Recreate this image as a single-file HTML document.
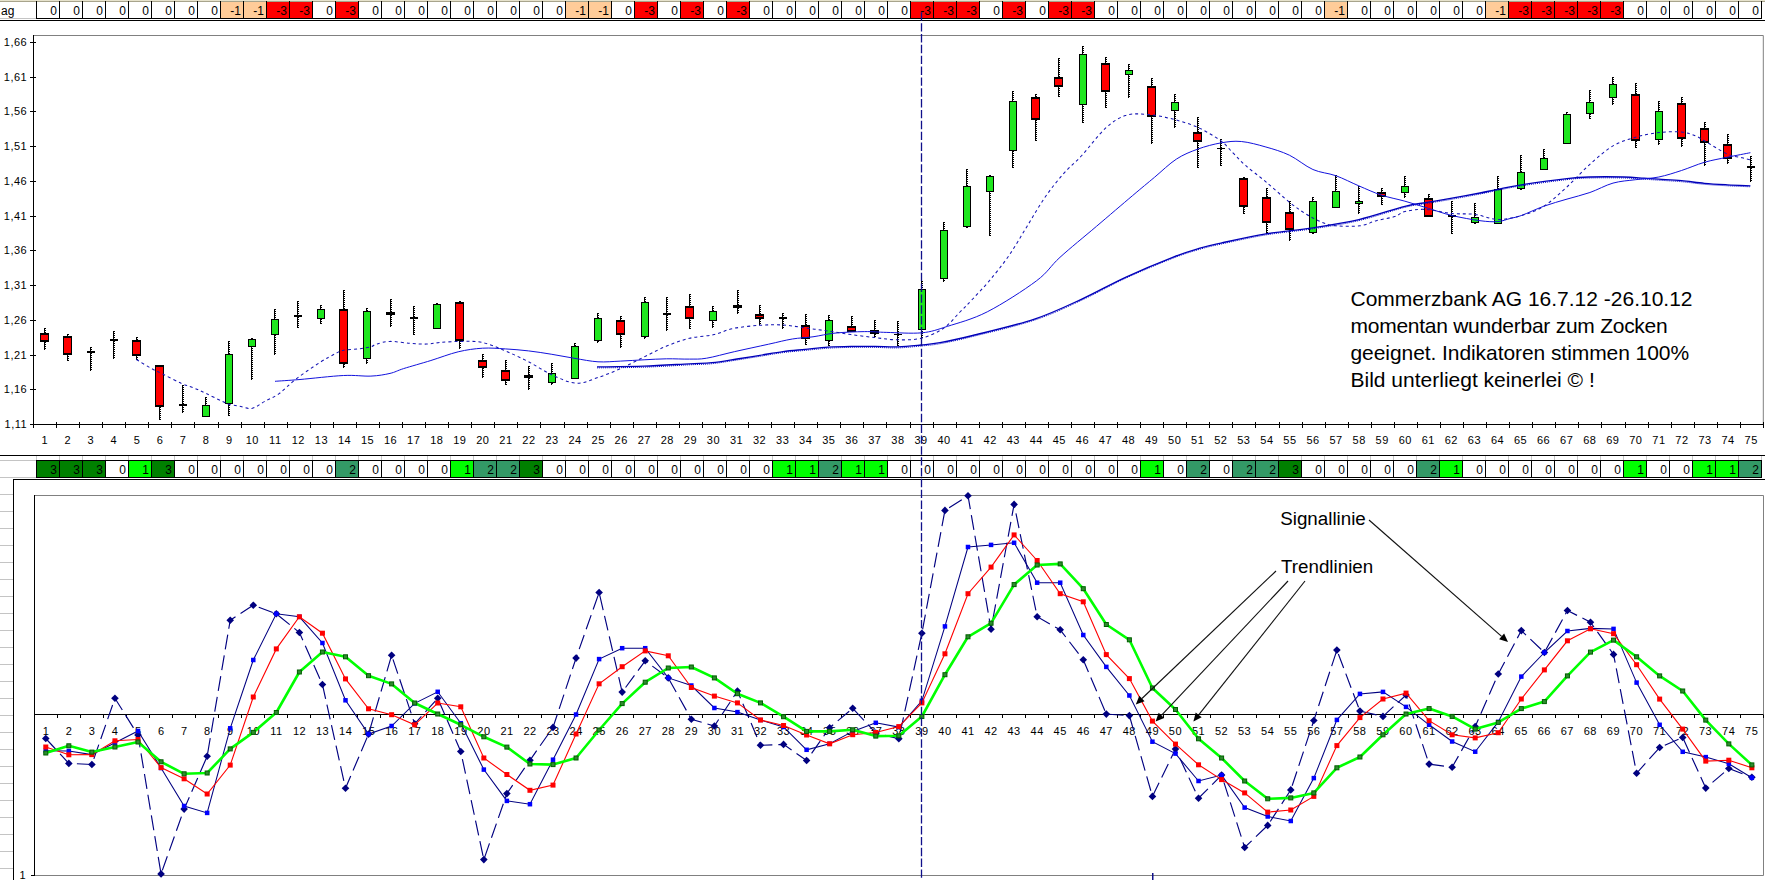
<!DOCTYPE html>
<html><head><meta charset="utf-8"><title>Commerzbank Chart</title>
<style>
html,body{margin:0;padding:0;background:#fff;width:1765px;height:880px;overflow:hidden}
svg{display:block}
text{font-family:"Liberation Sans", sans-serif;fill:#000}
.c{font-size:12px}
.a{font-size:11px;letter-spacing:0.5px}
.t{font-size:21px}
.s{font-size:18.8px}
</style></head><body>
<svg width="1765" height="880" viewBox="0 0 1765 880">
<rect width="1765" height="880" fill="#fff"/>
<rect x="0" y="0" width="1765" height="1" fill="#e6e2cc"/>
<rect x="0" y="1" width="1765" height="1" fill="#a8a48c"/>
<rect x="0" y="18" width="36" height="1" fill="#c4c4c4"/>
<rect x="36" y="1" width="1725" height="1" fill="#a8a48c"/>
<rect x="220" y="2" width="23" height="16" fill="#ffcc99"/>
<rect x="243" y="2" width="23" height="16" fill="#ffcc99"/>
<rect x="266" y="2" width="23" height="16" fill="#ff0000"/>
<rect x="289" y="2" width="23" height="16" fill="#ff0000"/>
<rect x="335" y="2" width="23" height="16" fill="#ff0000"/>
<rect x="565" y="2" width="23" height="16" fill="#ffcc99"/>
<rect x="588" y="2" width="23" height="16" fill="#ffcc99"/>
<rect x="634" y="2" width="23" height="16" fill="#ff0000"/>
<rect x="680" y="2" width="23" height="16" fill="#ff0000"/>
<rect x="726" y="2" width="23" height="16" fill="#ff0000"/>
<rect x="910" y="2" width="23" height="16" fill="#ff0000"/>
<rect x="933" y="2" width="23" height="16" fill="#ff0000"/>
<rect x="956" y="2" width="23" height="16" fill="#ff0000"/>
<rect x="1002" y="2" width="23" height="16" fill="#ff0000"/>
<rect x="1048" y="2" width="23" height="16" fill="#ff0000"/>
<rect x="1071" y="2" width="23" height="16" fill="#ff0000"/>
<rect x="1324" y="2" width="23" height="16" fill="#ffcc99"/>
<rect x="1485" y="2" width="23" height="16" fill="#ffcc99"/>
<rect x="1508" y="2" width="23" height="16" fill="#ff0000"/>
<rect x="1531" y="2" width="23" height="16" fill="#ff0000"/>
<rect x="1554" y="2" width="23" height="16" fill="#ff0000"/>
<rect x="1577" y="2" width="23" height="16" fill="#ff0000"/>
<rect x="1600" y="2" width="23" height="16" fill="#ff0000"/>
<rect x="36" y="18" width="1726" height="1" fill="#000"/>
<rect x="36" y="1" width="1" height="18" fill="#000"/>
<rect x="59" y="1" width="1" height="18" fill="#000"/>
<rect x="82" y="1" width="1" height="18" fill="#000"/>
<rect x="105" y="1" width="1" height="18" fill="#000"/>
<rect x="128" y="1" width="1" height="18" fill="#000"/>
<rect x="151" y="1" width="1" height="18" fill="#000"/>
<rect x="174" y="1" width="1" height="18" fill="#000"/>
<rect x="197" y="1" width="1" height="18" fill="#000"/>
<rect x="220" y="1" width="1" height="18" fill="#000"/>
<rect x="243" y="1" width="1" height="18" fill="#000"/>
<rect x="266" y="1" width="1" height="18" fill="#000"/>
<rect x="289" y="1" width="1" height="18" fill="#000"/>
<rect x="312" y="1" width="1" height="18" fill="#000"/>
<rect x="335" y="1" width="1" height="18" fill="#000"/>
<rect x="358" y="1" width="1" height="18" fill="#000"/>
<rect x="381" y="1" width="1" height="18" fill="#000"/>
<rect x="404" y="1" width="1" height="18" fill="#000"/>
<rect x="427" y="1" width="1" height="18" fill="#000"/>
<rect x="450" y="1" width="1" height="18" fill="#000"/>
<rect x="473" y="1" width="1" height="18" fill="#000"/>
<rect x="496" y="1" width="1" height="18" fill="#000"/>
<rect x="519" y="1" width="1" height="18" fill="#000"/>
<rect x="542" y="1" width="1" height="18" fill="#000"/>
<rect x="565" y="1" width="1" height="18" fill="#000"/>
<rect x="588" y="1" width="1" height="18" fill="#000"/>
<rect x="611" y="1" width="1" height="18" fill="#000"/>
<rect x="634" y="1" width="1" height="18" fill="#000"/>
<rect x="657" y="1" width="1" height="18" fill="#000"/>
<rect x="680" y="1" width="1" height="18" fill="#000"/>
<rect x="703" y="1" width="1" height="18" fill="#000"/>
<rect x="726" y="1" width="1" height="18" fill="#000"/>
<rect x="749" y="1" width="1" height="18" fill="#000"/>
<rect x="772" y="1" width="1" height="18" fill="#000"/>
<rect x="795" y="1" width="1" height="18" fill="#000"/>
<rect x="818" y="1" width="1" height="18" fill="#000"/>
<rect x="841" y="1" width="1" height="18" fill="#000"/>
<rect x="864" y="1" width="1" height="18" fill="#000"/>
<rect x="887" y="1" width="1" height="18" fill="#000"/>
<rect x="910" y="1" width="1" height="18" fill="#000"/>
<rect x="933" y="1" width="1" height="18" fill="#000"/>
<rect x="956" y="1" width="1" height="18" fill="#000"/>
<rect x="979" y="1" width="1" height="18" fill="#000"/>
<rect x="1002" y="1" width="1" height="18" fill="#000"/>
<rect x="1025" y="1" width="1" height="18" fill="#000"/>
<rect x="1048" y="1" width="1" height="18" fill="#000"/>
<rect x="1071" y="1" width="1" height="18" fill="#000"/>
<rect x="1094" y="1" width="1" height="18" fill="#000"/>
<rect x="1117" y="1" width="1" height="18" fill="#000"/>
<rect x="1140" y="1" width="1" height="18" fill="#000"/>
<rect x="1163" y="1" width="1" height="18" fill="#000"/>
<rect x="1186" y="1" width="1" height="18" fill="#000"/>
<rect x="1209" y="1" width="1" height="18" fill="#000"/>
<rect x="1232" y="1" width="1" height="18" fill="#000"/>
<rect x="1255" y="1" width="1" height="18" fill="#000"/>
<rect x="1278" y="1" width="1" height="18" fill="#000"/>
<rect x="1301" y="1" width="1" height="18" fill="#000"/>
<rect x="1324" y="1" width="1" height="18" fill="#000"/>
<rect x="1347" y="1" width="1" height="18" fill="#000"/>
<rect x="1370" y="1" width="1" height="18" fill="#000"/>
<rect x="1393" y="1" width="1" height="18" fill="#000"/>
<rect x="1416" y="1" width="1" height="18" fill="#000"/>
<rect x="1439" y="1" width="1" height="18" fill="#000"/>
<rect x="1462" y="1" width="1" height="18" fill="#000"/>
<rect x="1485" y="1" width="1" height="18" fill="#000"/>
<rect x="1508" y="1" width="1" height="18" fill="#000"/>
<rect x="1531" y="1" width="1" height="18" fill="#000"/>
<rect x="1554" y="1" width="1" height="18" fill="#000"/>
<rect x="1577" y="1" width="1" height="18" fill="#000"/>
<rect x="1600" y="1" width="1" height="18" fill="#000"/>
<rect x="1623" y="1" width="1" height="18" fill="#000"/>
<rect x="1646" y="1" width="1" height="18" fill="#000"/>
<rect x="1669" y="1" width="1" height="18" fill="#000"/>
<rect x="1692" y="1" width="1" height="18" fill="#000"/>
<rect x="1715" y="1" width="1" height="18" fill="#000"/>
<rect x="1738" y="1" width="1" height="18" fill="#000"/>
<rect x="1761" y="1" width="1" height="18" fill="#000"/>
<text x="57" y="15.2" text-anchor="end" class="c">0</text>
<text x="80" y="15.2" text-anchor="end" class="c">0</text>
<text x="103" y="15.2" text-anchor="end" class="c">0</text>
<text x="126" y="15.2" text-anchor="end" class="c">0</text>
<text x="149" y="15.2" text-anchor="end" class="c">0</text>
<text x="172" y="15.2" text-anchor="end" class="c">0</text>
<text x="195" y="15.2" text-anchor="end" class="c">0</text>
<text x="218" y="15.2" text-anchor="end" class="c">0</text>
<text x="241" y="15.2" text-anchor="end" class="c">-1</text>
<text x="264" y="15.2" text-anchor="end" class="c">-1</text>
<text x="287" y="15.2" text-anchor="end" class="c">-3</text>
<text x="310" y="15.2" text-anchor="end" class="c">-3</text>
<text x="333" y="15.2" text-anchor="end" class="c">0</text>
<text x="356" y="15.2" text-anchor="end" class="c">-3</text>
<text x="379" y="15.2" text-anchor="end" class="c">0</text>
<text x="402" y="15.2" text-anchor="end" class="c">0</text>
<text x="425" y="15.2" text-anchor="end" class="c">0</text>
<text x="448" y="15.2" text-anchor="end" class="c">0</text>
<text x="471" y="15.2" text-anchor="end" class="c">0</text>
<text x="494" y="15.2" text-anchor="end" class="c">0</text>
<text x="517" y="15.2" text-anchor="end" class="c">0</text>
<text x="540" y="15.2" text-anchor="end" class="c">0</text>
<text x="563" y="15.2" text-anchor="end" class="c">0</text>
<text x="586" y="15.2" text-anchor="end" class="c">-1</text>
<text x="609" y="15.2" text-anchor="end" class="c">-1</text>
<text x="632" y="15.2" text-anchor="end" class="c">0</text>
<text x="655" y="15.2" text-anchor="end" class="c">-3</text>
<text x="678" y="15.2" text-anchor="end" class="c">0</text>
<text x="701" y="15.2" text-anchor="end" class="c">-3</text>
<text x="724" y="15.2" text-anchor="end" class="c">0</text>
<text x="747" y="15.2" text-anchor="end" class="c">-3</text>
<text x="770" y="15.2" text-anchor="end" class="c">0</text>
<text x="793" y="15.2" text-anchor="end" class="c">0</text>
<text x="816" y="15.2" text-anchor="end" class="c">0</text>
<text x="839" y="15.2" text-anchor="end" class="c">0</text>
<text x="862" y="15.2" text-anchor="end" class="c">0</text>
<text x="885" y="15.2" text-anchor="end" class="c">0</text>
<text x="908" y="15.2" text-anchor="end" class="c">0</text>
<text x="931" y="15.2" text-anchor="end" class="c">-3</text>
<text x="954" y="15.2" text-anchor="end" class="c">-3</text>
<text x="977" y="15.2" text-anchor="end" class="c">-3</text>
<text x="1000" y="15.2" text-anchor="end" class="c">0</text>
<text x="1023" y="15.2" text-anchor="end" class="c">-3</text>
<text x="1046" y="15.2" text-anchor="end" class="c">0</text>
<text x="1069" y="15.2" text-anchor="end" class="c">-3</text>
<text x="1092" y="15.2" text-anchor="end" class="c">-3</text>
<text x="1115" y="15.2" text-anchor="end" class="c">0</text>
<text x="1138" y="15.2" text-anchor="end" class="c">0</text>
<text x="1161" y="15.2" text-anchor="end" class="c">0</text>
<text x="1184" y="15.2" text-anchor="end" class="c">0</text>
<text x="1207" y="15.2" text-anchor="end" class="c">0</text>
<text x="1230" y="15.2" text-anchor="end" class="c">0</text>
<text x="1253" y="15.2" text-anchor="end" class="c">0</text>
<text x="1276" y="15.2" text-anchor="end" class="c">0</text>
<text x="1299" y="15.2" text-anchor="end" class="c">0</text>
<text x="1322" y="15.2" text-anchor="end" class="c">0</text>
<text x="1345" y="15.2" text-anchor="end" class="c">-1</text>
<text x="1368" y="15.2" text-anchor="end" class="c">0</text>
<text x="1391" y="15.2" text-anchor="end" class="c">0</text>
<text x="1414" y="15.2" text-anchor="end" class="c">0</text>
<text x="1437" y="15.2" text-anchor="end" class="c">0</text>
<text x="1460" y="15.2" text-anchor="end" class="c">0</text>
<text x="1483" y="15.2" text-anchor="end" class="c">0</text>
<text x="1506" y="15.2" text-anchor="end" class="c">-1</text>
<text x="1529" y="15.2" text-anchor="end" class="c">-3</text>
<text x="1552" y="15.2" text-anchor="end" class="c">-3</text>
<text x="1575" y="15.2" text-anchor="end" class="c">-3</text>
<text x="1598" y="15.2" text-anchor="end" class="c">-3</text>
<text x="1621" y="15.2" text-anchor="end" class="c">-3</text>
<text x="1644" y="15.2" text-anchor="end" class="c">0</text>
<text x="1667" y="15.2" text-anchor="end" class="c">0</text>
<text x="1690" y="15.2" text-anchor="end" class="c">0</text>
<text x="1713" y="15.2" text-anchor="end" class="c">0</text>
<text x="1736" y="15.2" text-anchor="end" class="c">0</text>
<text x="1759" y="15.2" text-anchor="end" class="c">0</text>
<text x="1" y="14.6" class="c">ag</text>
<rect x="0" y="20" width="1765" height="1" fill="#000"/>
<line x1="33.5" y1="35.5" x2="1763.3" y2="35.5" stroke="#808080" stroke-width="1"/>
<line x1="1763.3" y1="35.5" x2="1763.3" y2="424.5" stroke="#808080" stroke-width="1"/>
<line x1="30" y1="42.5" x2="36" y2="42.5" stroke="#000" stroke-width="1"/>
<text x="27.2" y="46.3" text-anchor="end" class="a">1,66</text>
<line x1="30" y1="77.5" x2="36" y2="77.5" stroke="#000" stroke-width="1"/>
<text x="27.2" y="81.3" text-anchor="end" class="a">1,61</text>
<line x1="30" y1="111.5" x2="36" y2="111.5" stroke="#000" stroke-width="1"/>
<text x="27.2" y="115.3" text-anchor="end" class="a">1,56</text>
<line x1="30" y1="146.5" x2="36" y2="146.5" stroke="#000" stroke-width="1"/>
<text x="27.2" y="150.3" text-anchor="end" class="a">1,51</text>
<line x1="30" y1="181.5" x2="36" y2="181.5" stroke="#000" stroke-width="1"/>
<text x="27.2" y="185.3" text-anchor="end" class="a">1,46</text>
<line x1="30" y1="216.5" x2="36" y2="216.5" stroke="#000" stroke-width="1"/>
<text x="27.2" y="220.3" text-anchor="end" class="a">1,41</text>
<line x1="30" y1="250.5" x2="36" y2="250.5" stroke="#000" stroke-width="1"/>
<text x="27.2" y="254.3" text-anchor="end" class="a">1,36</text>
<line x1="30" y1="285.5" x2="36" y2="285.5" stroke="#000" stroke-width="1"/>
<text x="27.2" y="289.3" text-anchor="end" class="a">1,31</text>
<line x1="30" y1="320.5" x2="36" y2="320.5" stroke="#000" stroke-width="1"/>
<text x="27.2" y="324.3" text-anchor="end" class="a">1,26</text>
<line x1="30" y1="355.5" x2="36" y2="355.5" stroke="#000" stroke-width="1"/>
<text x="27.2" y="359.3" text-anchor="end" class="a">1,21</text>
<line x1="30" y1="389.5" x2="36" y2="389.5" stroke="#000" stroke-width="1"/>
<text x="27.2" y="393.3" text-anchor="end" class="a">1,16</text>
<line x1="30" y1="424.5" x2="36" y2="424.5" stroke="#000" stroke-width="1"/>
<text x="27.2" y="428.3" text-anchor="end" class="a">1,11</text>
<rect x="33" y="422" width="1" height="6" fill="#000"/>
<rect x="56" y="422" width="1" height="6" fill="#000"/>
<rect x="79" y="422" width="1" height="6" fill="#000"/>
<rect x="102" y="422" width="1" height="6" fill="#000"/>
<rect x="125" y="422" width="1" height="6" fill="#000"/>
<rect x="148" y="422" width="1" height="6" fill="#000"/>
<rect x="171" y="422" width="1" height="6" fill="#000"/>
<rect x="194" y="422" width="1" height="6" fill="#000"/>
<rect x="218" y="422" width="1" height="6" fill="#000"/>
<rect x="241" y="422" width="1" height="6" fill="#000"/>
<rect x="264" y="422" width="1" height="6" fill="#000"/>
<rect x="287" y="422" width="1" height="6" fill="#000"/>
<rect x="310" y="422" width="1" height="6" fill="#000"/>
<rect x="333" y="422" width="1" height="6" fill="#000"/>
<rect x="356" y="422" width="1" height="6" fill="#000"/>
<rect x="379" y="422" width="1" height="6" fill="#000"/>
<rect x="402" y="422" width="1" height="6" fill="#000"/>
<rect x="425" y="422" width="1" height="6" fill="#000"/>
<rect x="448" y="422" width="1" height="6" fill="#000"/>
<rect x="471" y="422" width="1" height="6" fill="#000"/>
<rect x="494" y="422" width="1" height="6" fill="#000"/>
<rect x="517" y="422" width="1" height="6" fill="#000"/>
<rect x="540" y="422" width="1" height="6" fill="#000"/>
<rect x="564" y="422" width="1" height="6" fill="#000"/>
<rect x="587" y="422" width="1" height="6" fill="#000"/>
<rect x="610" y="422" width="1" height="6" fill="#000"/>
<rect x="633" y="422" width="1" height="6" fill="#000"/>
<rect x="656" y="422" width="1" height="6" fill="#000"/>
<rect x="679" y="422" width="1" height="6" fill="#000"/>
<rect x="702" y="422" width="1" height="6" fill="#000"/>
<rect x="725" y="422" width="1" height="6" fill="#000"/>
<rect x="748" y="422" width="1" height="6" fill="#000"/>
<rect x="771" y="422" width="1" height="6" fill="#000"/>
<rect x="794" y="422" width="1" height="6" fill="#000"/>
<rect x="817" y="422" width="1" height="6" fill="#000"/>
<rect x="840" y="422" width="1" height="6" fill="#000"/>
<rect x="863" y="422" width="1" height="6" fill="#000"/>
<rect x="886" y="422" width="1" height="6" fill="#000"/>
<rect x="910" y="422" width="1" height="6" fill="#000"/>
<rect x="933" y="422" width="1" height="6" fill="#000"/>
<rect x="956" y="422" width="1" height="6" fill="#000"/>
<rect x="979" y="422" width="1" height="6" fill="#000"/>
<rect x="1002" y="422" width="1" height="6" fill="#000"/>
<rect x="1025" y="422" width="1" height="6" fill="#000"/>
<rect x="1048" y="422" width="1" height="6" fill="#000"/>
<rect x="1071" y="422" width="1" height="6" fill="#000"/>
<rect x="1094" y="422" width="1" height="6" fill="#000"/>
<rect x="1117" y="422" width="1" height="6" fill="#000"/>
<rect x="1140" y="422" width="1" height="6" fill="#000"/>
<rect x="1163" y="422" width="1" height="6" fill="#000"/>
<rect x="1186" y="422" width="1" height="6" fill="#000"/>
<rect x="1209" y="422" width="1" height="6" fill="#000"/>
<rect x="1232" y="422" width="1" height="6" fill="#000"/>
<rect x="1255" y="422" width="1" height="6" fill="#000"/>
<rect x="1279" y="422" width="1" height="6" fill="#000"/>
<rect x="1302" y="422" width="1" height="6" fill="#000"/>
<rect x="1325" y="422" width="1" height="6" fill="#000"/>
<rect x="1348" y="422" width="1" height="6" fill="#000"/>
<rect x="1371" y="422" width="1" height="6" fill="#000"/>
<rect x="1394" y="422" width="1" height="6" fill="#000"/>
<rect x="1417" y="422" width="1" height="6" fill="#000"/>
<rect x="1440" y="422" width="1" height="6" fill="#000"/>
<rect x="1463" y="422" width="1" height="6" fill="#000"/>
<rect x="1486" y="422" width="1" height="6" fill="#000"/>
<rect x="1509" y="422" width="1" height="6" fill="#000"/>
<rect x="1532" y="422" width="1" height="6" fill="#000"/>
<rect x="1555" y="422" width="1" height="6" fill="#000"/>
<rect x="1578" y="422" width="1" height="6" fill="#000"/>
<rect x="1601" y="422" width="1" height="6" fill="#000"/>
<rect x="1625" y="422" width="1" height="6" fill="#000"/>
<rect x="1648" y="422" width="1" height="6" fill="#000"/>
<rect x="1671" y="422" width="1" height="6" fill="#000"/>
<rect x="1694" y="422" width="1" height="6" fill="#000"/>
<rect x="1717" y="422" width="1" height="6" fill="#000"/>
<rect x="1740" y="422" width="1" height="6" fill="#000"/>
<rect x="1763" y="422" width="1" height="6" fill="#000"/>
<text x="44.73" y="444" text-anchor="middle" class="a">1</text>
<text x="67.79" y="444" text-anchor="middle" class="a">2</text>
<text x="90.85" y="444" text-anchor="middle" class="a">3</text>
<text x="113.91" y="444" text-anchor="middle" class="a">4</text>
<text x="136.97" y="444" text-anchor="middle" class="a">5</text>
<text x="160.03" y="444" text-anchor="middle" class="a">6</text>
<text x="183.09" y="444" text-anchor="middle" class="a">7</text>
<text x="206.15" y="444" text-anchor="middle" class="a">8</text>
<text x="229.21" y="444" text-anchor="middle" class="a">9</text>
<text x="252.27" y="444" text-anchor="middle" class="a">10</text>
<text x="275.33" y="444" text-anchor="middle" class="a">11</text>
<text x="298.39" y="444" text-anchor="middle" class="a">12</text>
<text x="321.45" y="444" text-anchor="middle" class="a">13</text>
<text x="344.51" y="444" text-anchor="middle" class="a">14</text>
<text x="367.57" y="444" text-anchor="middle" class="a">15</text>
<text x="390.63" y="444" text-anchor="middle" class="a">16</text>
<text x="413.69" y="444" text-anchor="middle" class="a">17</text>
<text x="436.75" y="444" text-anchor="middle" class="a">18</text>
<text x="459.81" y="444" text-anchor="middle" class="a">19</text>
<text x="482.87" y="444" text-anchor="middle" class="a">20</text>
<text x="505.93" y="444" text-anchor="middle" class="a">21</text>
<text x="528.99" y="444" text-anchor="middle" class="a">22</text>
<text x="552.05" y="444" text-anchor="middle" class="a">23</text>
<text x="575.11" y="444" text-anchor="middle" class="a">24</text>
<text x="598.17" y="444" text-anchor="middle" class="a">25</text>
<text x="621.23" y="444" text-anchor="middle" class="a">26</text>
<text x="644.29" y="444" text-anchor="middle" class="a">27</text>
<text x="667.35" y="444" text-anchor="middle" class="a">28</text>
<text x="690.41" y="444" text-anchor="middle" class="a">29</text>
<text x="713.47" y="444" text-anchor="middle" class="a">30</text>
<text x="736.53" y="444" text-anchor="middle" class="a">31</text>
<text x="759.59" y="444" text-anchor="middle" class="a">32</text>
<text x="782.65" y="444" text-anchor="middle" class="a">33</text>
<text x="805.71" y="444" text-anchor="middle" class="a">34</text>
<text x="828.77" y="444" text-anchor="middle" class="a">35</text>
<text x="851.83" y="444" text-anchor="middle" class="a">36</text>
<text x="874.89" y="444" text-anchor="middle" class="a">37</text>
<text x="897.95" y="444" text-anchor="middle" class="a">38</text>
<text x="921.01" y="444" text-anchor="middle" class="a">39</text>
<text x="944.07" y="444" text-anchor="middle" class="a">40</text>
<text x="967.13" y="444" text-anchor="middle" class="a">41</text>
<text x="990.19" y="444" text-anchor="middle" class="a">42</text>
<text x="1013.25" y="444" text-anchor="middle" class="a">43</text>
<text x="1036.31" y="444" text-anchor="middle" class="a">44</text>
<text x="1059.37" y="444" text-anchor="middle" class="a">45</text>
<text x="1082.43" y="444" text-anchor="middle" class="a">46</text>
<text x="1105.49" y="444" text-anchor="middle" class="a">47</text>
<text x="1128.55" y="444" text-anchor="middle" class="a">48</text>
<text x="1151.61" y="444" text-anchor="middle" class="a">49</text>
<text x="1174.67" y="444" text-anchor="middle" class="a">50</text>
<text x="1197.73" y="444" text-anchor="middle" class="a">51</text>
<text x="1220.79" y="444" text-anchor="middle" class="a">52</text>
<text x="1243.85" y="444" text-anchor="middle" class="a">53</text>
<text x="1266.91" y="444" text-anchor="middle" class="a">54</text>
<text x="1289.97" y="444" text-anchor="middle" class="a">55</text>
<text x="1313.03" y="444" text-anchor="middle" class="a">56</text>
<text x="1336.09" y="444" text-anchor="middle" class="a">57</text>
<text x="1359.15" y="444" text-anchor="middle" class="a">58</text>
<text x="1382.21" y="444" text-anchor="middle" class="a">59</text>
<text x="1405.27" y="444" text-anchor="middle" class="a">60</text>
<text x="1428.33" y="444" text-anchor="middle" class="a">61</text>
<text x="1451.39" y="444" text-anchor="middle" class="a">62</text>
<text x="1474.45" y="444" text-anchor="middle" class="a">63</text>
<text x="1497.51" y="444" text-anchor="middle" class="a">64</text>
<text x="1520.57" y="444" text-anchor="middle" class="a">65</text>
<text x="1543.63" y="444" text-anchor="middle" class="a">66</text>
<text x="1566.69" y="444" text-anchor="middle" class="a">67</text>
<text x="1589.75" y="444" text-anchor="middle" class="a">68</text>
<text x="1612.81" y="444" text-anchor="middle" class="a">69</text>
<text x="1635.87" y="444" text-anchor="middle" class="a">70</text>
<text x="1658.93" y="444" text-anchor="middle" class="a">71</text>
<text x="1681.99" y="444" text-anchor="middle" class="a">72</text>
<text x="1705.05" y="444" text-anchor="middle" class="a">73</text>
<text x="1728.11" y="444" text-anchor="middle" class="a">74</text>
<text x="1751.17" y="444" text-anchor="middle" class="a">75</text>
<rect x="44" y="328" width="1" height="22" fill="#000"/>
<line x1="45.5" y1="328" x2="45.5" y2="350" stroke="#000" stroke-width="1" stroke-dasharray="1,1"/>
<rect x="40" y="333" width="9" height="9" fill="#000"/>
<rect x="41" y="335" width="7" height="5" fill="#f00"/>
<rect x="67" y="334" width="1" height="27" fill="#000"/>
<line x1="68.5" y1="334" x2="68.5" y2="361" stroke="#000" stroke-width="1" stroke-dasharray="1,1"/>
<rect x="63" y="336" width="9" height="19" fill="#000"/>
<rect x="64" y="338" width="7" height="15" fill="#f00"/>
<rect x="90" y="347" width="1" height="24" fill="#000"/>
<line x1="91.5" y1="347" x2="91.5" y2="371" stroke="#000" stroke-width="1" stroke-dasharray="1,1"/>
<rect x="87" y="351" width="8" height="2" fill="#000"/>
<rect x="113" y="331" width="1" height="28" fill="#000"/>
<line x1="114.5" y1="331" x2="114.5" y2="359" stroke="#000" stroke-width="1" stroke-dasharray="1,1"/>
<rect x="110" y="339" width="8" height="2" fill="#000"/>
<rect x="136" y="337" width="1" height="23" fill="#000"/>
<line x1="137.5" y1="337" x2="137.5" y2="360" stroke="#000" stroke-width="1" stroke-dasharray="1,1"/>
<rect x="132" y="340" width="9" height="16" fill="#000"/>
<rect x="133" y="342" width="7" height="12" fill="#f00"/>
<rect x="159" y="365" width="1" height="55" fill="#000"/>
<line x1="160.5" y1="365" x2="160.5" y2="420" stroke="#000" stroke-width="1" stroke-dasharray="1,1"/>
<rect x="155" y="365" width="9" height="42" fill="#000"/>
<rect x="156" y="367" width="7" height="38" fill="#f00"/>
<rect x="182" y="385" width="1" height="28" fill="#000"/>
<line x1="183.5" y1="385" x2="183.5" y2="413" stroke="#000" stroke-width="1" stroke-dasharray="1,1"/>
<rect x="179" y="404" width="8" height="2" fill="#000"/>
<rect x="205" y="397" width="1" height="19" fill="#000"/>
<line x1="206.5" y1="397" x2="206.5" y2="416" stroke="#000" stroke-width="1" stroke-dasharray="1,1"/>
<rect x="202" y="405" width="8" height="12" fill="#000"/>
<rect x="203" y="406" width="6" height="10" fill="#1ee61e"/>
<rect x="228" y="341" width="1" height="75" fill="#000"/>
<line x1="229.5" y1="341" x2="229.5" y2="416" stroke="#000" stroke-width="1" stroke-dasharray="1,1"/>
<rect x="225" y="354" width="8" height="50" fill="#000"/>
<rect x="226" y="355" width="6" height="48" fill="#1ee61e"/>
<rect x="251" y="338" width="1" height="42" fill="#000"/>
<line x1="252.5" y1="338" x2="252.5" y2="380" stroke="#000" stroke-width="1" stroke-dasharray="1,1"/>
<rect x="248" y="339" width="8" height="8" fill="#000"/>
<rect x="249" y="340" width="6" height="6" fill="#1ee61e"/>
<rect x="274" y="309" width="1" height="46" fill="#000"/>
<line x1="275.5" y1="309" x2="275.5" y2="355" stroke="#000" stroke-width="1" stroke-dasharray="1,1"/>
<rect x="271" y="319" width="8" height="16" fill="#000"/>
<rect x="272" y="320" width="6" height="14" fill="#1ee61e"/>
<rect x="297" y="301" width="1" height="27" fill="#000"/>
<line x1="298.5" y1="301" x2="298.5" y2="328" stroke="#000" stroke-width="1" stroke-dasharray="1,1"/>
<rect x="294" y="315" width="8" height="2" fill="#000"/>
<rect x="320" y="305" width="1" height="19" fill="#000"/>
<line x1="321.5" y1="305" x2="321.5" y2="324" stroke="#000" stroke-width="1" stroke-dasharray="1,1"/>
<rect x="317" y="309" width="8" height="10" fill="#000"/>
<rect x="318" y="310" width="6" height="8" fill="#1ee61e"/>
<rect x="343" y="290" width="1" height="78" fill="#000"/>
<line x1="344.5" y1="290" x2="344.5" y2="368" stroke="#000" stroke-width="1" stroke-dasharray="1,1"/>
<rect x="339" y="309" width="9" height="55" fill="#000"/>
<rect x="340" y="311" width="7" height="51" fill="#f00"/>
<rect x="366" y="308" width="1" height="56" fill="#000"/>
<line x1="367.5" y1="308" x2="367.5" y2="364" stroke="#000" stroke-width="1" stroke-dasharray="1,1"/>
<rect x="363" y="311" width="8" height="48" fill="#000"/>
<rect x="364" y="312" width="6" height="46" fill="#1ee61e"/>
<rect x="390" y="299" width="1" height="28" fill="#000"/>
<line x1="391.5" y1="299" x2="391.5" y2="327" stroke="#000" stroke-width="1" stroke-dasharray="1,1"/>
<rect x="386" y="312" width="9" height="3" fill="#000"/>
<rect x="413" y="306" width="1" height="29" fill="#000"/>
<line x1="414.5" y1="306" x2="414.5" y2="335" stroke="#000" stroke-width="1" stroke-dasharray="1,1"/>
<rect x="410" y="317" width="8" height="2" fill="#000"/>
<rect x="436" y="303" width="1" height="25" fill="#000"/>
<line x1="437.5" y1="303" x2="437.5" y2="328" stroke="#000" stroke-width="1" stroke-dasharray="1,1"/>
<rect x="433" y="304" width="8" height="25" fill="#000"/>
<rect x="434" y="305" width="6" height="23" fill="#1ee61e"/>
<rect x="459" y="301" width="1" height="48" fill="#000"/>
<line x1="460.5" y1="301" x2="460.5" y2="349" stroke="#000" stroke-width="1" stroke-dasharray="1,1"/>
<rect x="455" y="302" width="9" height="39" fill="#000"/>
<rect x="456" y="304" width="7" height="35" fill="#f00"/>
<rect x="482" y="354" width="1" height="24" fill="#000"/>
<line x1="483.5" y1="354" x2="483.5" y2="378" stroke="#000" stroke-width="1" stroke-dasharray="1,1"/>
<rect x="478" y="360" width="9" height="8" fill="#000"/>
<rect x="479" y="362" width="7" height="4" fill="#f00"/>
<rect x="505" y="360" width="1" height="25" fill="#000"/>
<line x1="506.5" y1="360" x2="506.5" y2="385" stroke="#000" stroke-width="1" stroke-dasharray="1,1"/>
<rect x="501" y="370" width="9" height="11" fill="#000"/>
<rect x="502" y="372" width="7" height="7" fill="#f00"/>
<rect x="528" y="366" width="1" height="24" fill="#000"/>
<line x1="529.5" y1="366" x2="529.5" y2="390" stroke="#000" stroke-width="1" stroke-dasharray="1,1"/>
<rect x="524" y="375" width="9" height="3" fill="#000"/>
<rect x="551" y="363" width="1" height="22" fill="#000"/>
<line x1="552.5" y1="363" x2="552.5" y2="385" stroke="#000" stroke-width="1" stroke-dasharray="1,1"/>
<rect x="548" y="373" width="8" height="10" fill="#000"/>
<rect x="549" y="374" width="6" height="8" fill="#1ee61e"/>
<rect x="574" y="343" width="1" height="36" fill="#000"/>
<line x1="575.5" y1="343" x2="575.5" y2="379" stroke="#000" stroke-width="1" stroke-dasharray="1,1"/>
<rect x="571" y="346" width="8" height="33" fill="#000"/>
<rect x="572" y="347" width="6" height="31" fill="#1ee61e"/>
<rect x="597" y="313" width="1" height="30" fill="#000"/>
<line x1="598.5" y1="313" x2="598.5" y2="343" stroke="#000" stroke-width="1" stroke-dasharray="1,1"/>
<rect x="594" y="318" width="8" height="23" fill="#000"/>
<rect x="595" y="319" width="6" height="21" fill="#1ee61e"/>
<rect x="620" y="316" width="1" height="32" fill="#000"/>
<line x1="621.5" y1="316" x2="621.5" y2="348" stroke="#000" stroke-width="1" stroke-dasharray="1,1"/>
<rect x="616" y="320" width="9" height="15" fill="#000"/>
<rect x="617" y="322" width="7" height="11" fill="#f00"/>
<rect x="644" y="297" width="1" height="42" fill="#000"/>
<line x1="645.5" y1="297" x2="645.5" y2="339" stroke="#000" stroke-width="1" stroke-dasharray="1,1"/>
<rect x="641" y="302" width="8" height="35" fill="#000"/>
<rect x="642" y="303" width="6" height="33" fill="#1ee61e"/>
<rect x="666" y="297" width="1" height="34" fill="#000"/>
<line x1="667.5" y1="297" x2="667.5" y2="331" stroke="#000" stroke-width="1" stroke-dasharray="1,1"/>
<rect x="663" y="313" width="8" height="2" fill="#000"/>
<rect x="689" y="294" width="1" height="35" fill="#000"/>
<line x1="690.5" y1="294" x2="690.5" y2="329" stroke="#000" stroke-width="1" stroke-dasharray="1,1"/>
<rect x="685" y="306" width="9" height="13" fill="#000"/>
<rect x="686" y="308" width="7" height="9" fill="#f00"/>
<rect x="712" y="306" width="1" height="22" fill="#000"/>
<line x1="713.5" y1="306" x2="713.5" y2="328" stroke="#000" stroke-width="1" stroke-dasharray="1,1"/>
<rect x="709" y="311" width="8" height="10" fill="#000"/>
<rect x="710" y="312" width="6" height="8" fill="#1ee61e"/>
<rect x="737" y="290" width="1" height="24" fill="#000"/>
<line x1="738.5" y1="290" x2="738.5" y2="314" stroke="#000" stroke-width="1" stroke-dasharray="1,1"/>
<rect x="733" y="305" width="9" height="3" fill="#000"/>
<rect x="759" y="305" width="1" height="20" fill="#000"/>
<line x1="760.5" y1="305" x2="760.5" y2="325" stroke="#000" stroke-width="1" stroke-dasharray="1,1"/>
<rect x="755" y="314" width="9" height="5" fill="#000"/>
<rect x="756" y="316" width="7" height="1" fill="#f00"/>
<rect x="782" y="313" width="1" height="16" fill="#000"/>
<line x1="783.5" y1="313" x2="783.5" y2="329" stroke="#000" stroke-width="1" stroke-dasharray="1,1"/>
<rect x="779" y="317" width="8" height="2" fill="#000"/>
<rect x="805" y="314" width="1" height="31" fill="#000"/>
<line x1="806.5" y1="314" x2="806.5" y2="345" stroke="#000" stroke-width="1" stroke-dasharray="1,1"/>
<rect x="801" y="325" width="9" height="14" fill="#000"/>
<rect x="802" y="327" width="7" height="10" fill="#f00"/>
<rect x="828" y="315" width="1" height="31" fill="#000"/>
<line x1="829.5" y1="315" x2="829.5" y2="346" stroke="#000" stroke-width="1" stroke-dasharray="1,1"/>
<rect x="825" y="320" width="8" height="21" fill="#000"/>
<rect x="826" y="321" width="6" height="19" fill="#1ee61e"/>
<rect x="851" y="316" width="1" height="16" fill="#000"/>
<line x1="852.5" y1="316" x2="852.5" y2="332" stroke="#000" stroke-width="1" stroke-dasharray="1,1"/>
<rect x="847" y="326" width="9" height="6" fill="#000"/>
<rect x="848" y="328" width="7" height="2" fill="#f00"/>
<rect x="874" y="320" width="1" height="18" fill="#000"/>
<line x1="875.5" y1="320" x2="875.5" y2="338" stroke="#000" stroke-width="1" stroke-dasharray="1,1"/>
<rect x="870" y="330" width="9" height="4" fill="#000"/>
<rect x="897" y="321" width="1" height="25" fill="#000"/>
<line x1="898.5" y1="321" x2="898.5" y2="346" stroke="#000" stroke-width="1" stroke-dasharray="1,1"/>
<rect x="894" y="334" width="8" height="1" fill="#000"/>
<rect x="921" y="281" width="1" height="57" fill="#000"/>
<line x1="922.5" y1="281" x2="922.5" y2="338" stroke="#000" stroke-width="1" stroke-dasharray="1,1"/>
<rect x="918" y="289" width="8" height="41" fill="#000"/>
<rect x="919" y="290" width="6" height="39" fill="#1ee61e"/>
<rect x="943" y="222" width="1" height="60" fill="#000"/>
<line x1="944.5" y1="222" x2="944.5" y2="282" stroke="#000" stroke-width="1" stroke-dasharray="1,1"/>
<rect x="940" y="230" width="8" height="49" fill="#000"/>
<rect x="941" y="231" width="6" height="47" fill="#1ee61e"/>
<rect x="966" y="169" width="1" height="59" fill="#000"/>
<line x1="967.5" y1="169" x2="967.5" y2="228" stroke="#000" stroke-width="1" stroke-dasharray="1,1"/>
<rect x="963" y="186" width="8" height="41" fill="#000"/>
<rect x="964" y="187" width="6" height="39" fill="#1ee61e"/>
<rect x="989" y="175" width="1" height="61" fill="#000"/>
<line x1="990.5" y1="175" x2="990.5" y2="236" stroke="#000" stroke-width="1" stroke-dasharray="1,1"/>
<rect x="986" y="176" width="8" height="16" fill="#000"/>
<rect x="987" y="177" width="6" height="14" fill="#1ee61e"/>
<rect x="1012" y="91" width="1" height="77" fill="#000"/>
<line x1="1013.5" y1="91" x2="1013.5" y2="168" stroke="#000" stroke-width="1" stroke-dasharray="1,1"/>
<rect x="1009" y="101" width="8" height="50" fill="#000"/>
<rect x="1010" y="102" width="6" height="48" fill="#1ee61e"/>
<rect x="1035" y="94" width="1" height="47" fill="#000"/>
<line x1="1036.5" y1="94" x2="1036.5" y2="141" stroke="#000" stroke-width="1" stroke-dasharray="1,1"/>
<rect x="1031" y="97" width="9" height="23" fill="#000"/>
<rect x="1032" y="99" width="7" height="19" fill="#f00"/>
<rect x="1058" y="58" width="1" height="39" fill="#000"/>
<line x1="1059.5" y1="58" x2="1059.5" y2="97" stroke="#000" stroke-width="1" stroke-dasharray="1,1"/>
<rect x="1054" y="77" width="9" height="10" fill="#000"/>
<rect x="1055" y="79" width="7" height="6" fill="#f00"/>
<rect x="1082" y="46" width="1" height="77" fill="#000"/>
<line x1="1083.5" y1="46" x2="1083.5" y2="123" stroke="#000" stroke-width="1" stroke-dasharray="1,1"/>
<rect x="1079" y="54" width="8" height="51" fill="#000"/>
<rect x="1080" y="55" width="6" height="49" fill="#1ee61e"/>
<rect x="1105" y="57" width="1" height="51" fill="#000"/>
<line x1="1106.5" y1="57" x2="1106.5" y2="108" stroke="#000" stroke-width="1" stroke-dasharray="1,1"/>
<rect x="1101" y="63" width="9" height="29" fill="#000"/>
<rect x="1102" y="65" width="7" height="25" fill="#f00"/>
<rect x="1128" y="64" width="1" height="34" fill="#000"/>
<line x1="1129.5" y1="64" x2="1129.5" y2="98" stroke="#000" stroke-width="1" stroke-dasharray="1,1"/>
<rect x="1125" y="70" width="8" height="5" fill="#000"/>
<rect x="1126" y="71" width="6" height="3" fill="#1ee61e"/>
<rect x="1151" y="78" width="1" height="66" fill="#000"/>
<line x1="1152.5" y1="78" x2="1152.5" y2="144" stroke="#000" stroke-width="1" stroke-dasharray="1,1"/>
<rect x="1147" y="86" width="9" height="31" fill="#000"/>
<rect x="1148" y="88" width="7" height="27" fill="#f00"/>
<rect x="1174" y="94" width="1" height="34" fill="#000"/>
<line x1="1175.5" y1="94" x2="1175.5" y2="128" stroke="#000" stroke-width="1" stroke-dasharray="1,1"/>
<rect x="1171" y="102" width="8" height="9" fill="#000"/>
<rect x="1172" y="103" width="6" height="7" fill="#1ee61e"/>
<rect x="1197" y="117" width="1" height="51" fill="#000"/>
<line x1="1198.5" y1="117" x2="1198.5" y2="168" stroke="#000" stroke-width="1" stroke-dasharray="1,1"/>
<rect x="1193" y="132" width="9" height="10" fill="#000"/>
<rect x="1194" y="134" width="7" height="6" fill="#f00"/>
<rect x="1220" y="139" width="1" height="27" fill="#000"/>
<line x1="1221.5" y1="139" x2="1221.5" y2="166" stroke="#000" stroke-width="1" stroke-dasharray="1,1"/>
<rect x="1217" y="148" width="8" height="1" fill="#000"/>
<rect x="1243" y="177" width="1" height="37" fill="#000"/>
<line x1="1244.5" y1="177" x2="1244.5" y2="214" stroke="#000" stroke-width="1" stroke-dasharray="1,1"/>
<rect x="1239" y="178" width="9" height="29" fill="#000"/>
<rect x="1240" y="180" width="7" height="25" fill="#f00"/>
<rect x="1266" y="188" width="1" height="46" fill="#000"/>
<line x1="1267.5" y1="188" x2="1267.5" y2="234" stroke="#000" stroke-width="1" stroke-dasharray="1,1"/>
<rect x="1262" y="197" width="9" height="26" fill="#000"/>
<rect x="1263" y="199" width="7" height="22" fill="#f00"/>
<rect x="1289" y="201" width="1" height="40" fill="#000"/>
<line x1="1290.5" y1="201" x2="1290.5" y2="241" stroke="#000" stroke-width="1" stroke-dasharray="1,1"/>
<rect x="1285" y="212" width="9" height="18" fill="#000"/>
<rect x="1286" y="214" width="7" height="14" fill="#f00"/>
<rect x="1312" y="197" width="1" height="37" fill="#000"/>
<line x1="1313.5" y1="197" x2="1313.5" y2="234" stroke="#000" stroke-width="1" stroke-dasharray="1,1"/>
<rect x="1309" y="201" width="8" height="32" fill="#000"/>
<rect x="1310" y="202" width="6" height="30" fill="#1ee61e"/>
<rect x="1335" y="175" width="1" height="33" fill="#000"/>
<line x1="1336.5" y1="175" x2="1336.5" y2="208" stroke="#000" stroke-width="1" stroke-dasharray="1,1"/>
<rect x="1332" y="191" width="8" height="17" fill="#000"/>
<rect x="1333" y="192" width="6" height="15" fill="#1ee61e"/>
<rect x="1358" y="186" width="1" height="28" fill="#000"/>
<line x1="1359.5" y1="186" x2="1359.5" y2="214" stroke="#000" stroke-width="1" stroke-dasharray="1,1"/>
<rect x="1355" y="201" width="8" height="3" fill="#000"/>
<rect x="1356" y="202" width="6" height="1" fill="#1ee61e"/>
<rect x="1381" y="188" width="1" height="17" fill="#000"/>
<line x1="1382.5" y1="188" x2="1382.5" y2="205" stroke="#000" stroke-width="1" stroke-dasharray="1,1"/>
<rect x="1377" y="192" width="9" height="5" fill="#000"/>
<rect x="1378" y="194" width="7" height="1" fill="#f00"/>
<rect x="1404" y="176" width="1" height="22" fill="#000"/>
<line x1="1405.5" y1="176" x2="1405.5" y2="198" stroke="#000" stroke-width="1" stroke-dasharray="1,1"/>
<rect x="1401" y="186" width="8" height="7" fill="#000"/>
<rect x="1402" y="187" width="6" height="5" fill="#1ee61e"/>
<rect x="1428" y="194" width="1" height="23" fill="#000"/>
<line x1="1429.5" y1="194" x2="1429.5" y2="217" stroke="#000" stroke-width="1" stroke-dasharray="1,1"/>
<rect x="1424" y="198" width="9" height="19" fill="#000"/>
<rect x="1425" y="200" width="7" height="15" fill="#f00"/>
<rect x="1451" y="201" width="1" height="33" fill="#000"/>
<line x1="1452.5" y1="201" x2="1452.5" y2="234" stroke="#000" stroke-width="1" stroke-dasharray="1,1"/>
<rect x="1448" y="215" width="8" height="2" fill="#000"/>
<rect x="1474" y="203" width="1" height="21" fill="#000"/>
<line x1="1475.5" y1="203" x2="1475.5" y2="224" stroke="#000" stroke-width="1" stroke-dasharray="1,1"/>
<rect x="1471" y="217" width="8" height="6" fill="#000"/>
<rect x="1472" y="218" width="6" height="4" fill="#1ee61e"/>
<rect x="1497" y="176" width="1" height="47" fill="#000"/>
<line x1="1498.5" y1="176" x2="1498.5" y2="223" stroke="#000" stroke-width="1" stroke-dasharray="1,1"/>
<rect x="1494" y="189" width="8" height="35" fill="#000"/>
<rect x="1495" y="190" width="6" height="33" fill="#1ee61e"/>
<rect x="1520" y="155" width="1" height="35" fill="#000"/>
<line x1="1521.5" y1="155" x2="1521.5" y2="190" stroke="#000" stroke-width="1" stroke-dasharray="1,1"/>
<rect x="1517" y="172" width="8" height="17" fill="#000"/>
<rect x="1518" y="173" width="6" height="15" fill="#1ee61e"/>
<rect x="1543" y="149" width="1" height="21" fill="#000"/>
<line x1="1544.5" y1="149" x2="1544.5" y2="170" stroke="#000" stroke-width="1" stroke-dasharray="1,1"/>
<rect x="1540" y="158" width="8" height="12" fill="#000"/>
<rect x="1541" y="159" width="6" height="10" fill="#1ee61e"/>
<rect x="1566" y="112" width="1" height="32" fill="#000"/>
<line x1="1567.5" y1="112" x2="1567.5" y2="144" stroke="#000" stroke-width="1" stroke-dasharray="1,1"/>
<rect x="1563" y="114" width="8" height="30" fill="#000"/>
<rect x="1564" y="115" width="6" height="28" fill="#1ee61e"/>
<rect x="1589" y="90" width="1" height="29" fill="#000"/>
<line x1="1590.5" y1="90" x2="1590.5" y2="119" stroke="#000" stroke-width="1" stroke-dasharray="1,1"/>
<rect x="1586" y="102" width="8" height="12" fill="#000"/>
<rect x="1587" y="103" width="6" height="10" fill="#1ee61e"/>
<rect x="1612" y="77" width="1" height="28" fill="#000"/>
<line x1="1613.5" y1="77" x2="1613.5" y2="105" stroke="#000" stroke-width="1" stroke-dasharray="1,1"/>
<rect x="1609" y="84" width="8" height="14" fill="#000"/>
<rect x="1610" y="85" width="6" height="12" fill="#1ee61e"/>
<rect x="1635" y="83" width="1" height="65" fill="#000"/>
<line x1="1636.5" y1="83" x2="1636.5" y2="148" stroke="#000" stroke-width="1" stroke-dasharray="1,1"/>
<rect x="1631" y="94" width="9" height="47" fill="#000"/>
<rect x="1632" y="96" width="7" height="43" fill="#f00"/>
<rect x="1658" y="101" width="1" height="44" fill="#000"/>
<line x1="1659.5" y1="101" x2="1659.5" y2="145" stroke="#000" stroke-width="1" stroke-dasharray="1,1"/>
<rect x="1655" y="111" width="8" height="29" fill="#000"/>
<rect x="1656" y="112" width="6" height="27" fill="#1ee61e"/>
<rect x="1681" y="97" width="1" height="50" fill="#000"/>
<line x1="1682.5" y1="97" x2="1682.5" y2="147" stroke="#000" stroke-width="1" stroke-dasharray="1,1"/>
<rect x="1677" y="103" width="9" height="36" fill="#000"/>
<rect x="1678" y="105" width="7" height="32" fill="#f00"/>
<rect x="1704" y="122" width="1" height="44" fill="#000"/>
<line x1="1705.5" y1="122" x2="1705.5" y2="166" stroke="#000" stroke-width="1" stroke-dasharray="1,1"/>
<rect x="1700" y="128" width="9" height="15" fill="#000"/>
<rect x="1701" y="130" width="7" height="11" fill="#f00"/>
<rect x="1727" y="134" width="1" height="30" fill="#000"/>
<line x1="1728.5" y1="134" x2="1728.5" y2="164" stroke="#000" stroke-width="1" stroke-dasharray="1,1"/>
<rect x="1723" y="144" width="9" height="15" fill="#000"/>
<rect x="1724" y="146" width="7" height="11" fill="#f00"/>
<rect x="1750" y="156" width="1" height="26" fill="#000"/>
<line x1="1751.5" y1="156" x2="1751.5" y2="182" stroke="#000" stroke-width="1" stroke-dasharray="1,1"/>
<rect x="1747" y="166" width="8" height="2" fill="#000"/>
<path d="M597,366.9 C604.83,366.78 628.58,366.72 644,366.2 C659.42,365.68 678.17,364.38 689.5,363.8 C700.83,363.22 704.08,363.5 712,362.7 C719.92,361.9 729,360.23 737,359 C745,357.77 752.33,356.53 760,355.3 C767.67,354.07 775.5,352.58 783,351.6 C790.5,350.62 797.5,350.13 805,349.4 C812.5,348.67 820.33,347.7 828,347.2 C835.67,346.7 843.17,346.53 851,346.4 C858.83,346.27 867.17,346.32 875,346.4 C882.83,346.48 890.33,347.13 898,346.9 C905.67,346.67 914,345.7 921,345 C928,344.3 931.38,344.28 940,342.7 C948.62,341.12 956.95,339.43 972.7,335.5 C988.45,331.57 1016.32,325.17 1034.5,319.1 C1052.68,313.03 1066.63,306.07 1081.8,299.1 C1096.97,292.13 1110.35,284.27 1125.5,277.3 C1140.65,270.33 1160.28,262.15 1172.7,257.3 C1185.12,252.45 1191.97,250.57 1200,248.2 C1208.03,245.83 1209.92,245.48 1220.9,243.1 C1231.88,240.72 1250.57,236.45 1265.9,233.9 C1281.23,231.35 1297.4,230.18 1312.9,227.8 C1328.4,225.42 1343.57,223.18 1358.9,219.6 C1374.23,216.02 1393.3,209.2 1404.9,206.3 C1416.5,203.4 1420.65,203.55 1428.5,202.2 C1436.35,200.85 1443.42,199.73 1452,198.2 C1460.58,196.67 1472.37,194.48 1480,193 C1487.63,191.52 1490.9,190.67 1497.8,189.3 C1504.7,187.93 1509.87,186.58 1521.4,184.8 C1532.93,183.02 1555.58,179.9 1567,178.6 C1578.42,177.3 1580.47,177.27 1589.9,177 C1599.33,176.73 1614.58,176.8 1623.6,177 C1632.62,177.2 1638.13,177.83 1644,178.2 C1649.87,178.57 1652.55,178.78 1658.8,179.2 C1665.05,179.62 1673.9,180.02 1681.5,180.7 C1689.1,181.38 1696.73,182.62 1704.4,183.3 C1712.07,183.98 1719.83,184.38 1727.5,184.8 C1735.17,185.22 1746.58,185.63 1750.4,185.8" fill="none" stroke="#0000b8" stroke-width="1.35"/>
<path d="M597,366.9 C604.83,366.78 628.58,366.72 644,366.2 C659.42,365.68 678.17,364.38 689.5,363.8 C700.83,363.22 704.08,363.5 712,362.7 C719.92,361.9 729,360.23 737,359 C745,357.77 752.33,356.53 760,355.3 C767.67,354.07 775.5,352.58 783,351.6 C790.5,350.62 797.5,350.13 805,349.4 C812.5,348.67 820.33,347.7 828,347.2 C835.67,346.7 843.17,346.53 851,346.4 C858.83,346.27 867.17,346.32 875,346.4 C882.83,346.48 890.33,347.13 898,346.9 C905.67,346.67 914,345.7 921,345 C928,344.3 931.38,344.28 940,342.7 C948.62,341.12 956.95,339.43 972.7,335.5 C988.45,331.57 1016.32,325.17 1034.5,319.1 C1052.68,313.03 1066.63,306.07 1081.8,299.1 C1096.97,292.13 1110.35,284.27 1125.5,277.3 C1140.65,270.33 1160.28,262.15 1172.7,257.3 C1185.12,252.45 1191.97,250.57 1200,248.2 C1208.03,245.83 1209.92,245.48 1220.9,243.1 C1231.88,240.72 1250.57,236.45 1265.9,233.9 C1281.23,231.35 1297.4,230.18 1312.9,227.8 C1328.4,225.42 1343.57,223.18 1358.9,219.6 C1374.23,216.02 1393.3,209.2 1404.9,206.3 C1416.5,203.4 1420.65,203.55 1428.5,202.2 C1436.35,200.85 1443.42,199.73 1452,198.2 C1460.58,196.67 1472.37,194.48 1480,193 C1487.63,191.52 1490.9,190.67 1497.8,189.3 C1504.7,187.93 1509.87,186.58 1521.4,184.8 C1532.93,183.02 1555.58,179.9 1567,178.6 C1578.42,177.3 1580.47,177.27 1589.9,177 C1599.33,176.73 1614.58,176.8 1623.6,177 C1632.62,177.2 1638.13,177.83 1644,178.2 C1649.87,178.57 1652.55,178.78 1658.8,179.2 C1665.05,179.62 1673.9,180.02 1681.5,180.7 C1689.1,181.38 1696.73,182.62 1704.4,183.3 C1712.07,183.98 1719.83,184.38 1727.5,184.8 C1735.17,185.22 1746.58,185.63 1750.4,185.8" fill="none" stroke="#0000c8" stroke-width="1" stroke-dasharray="1,1" transform="translate(0,1)"/>
<path d="M275,381.3 C279.17,381 288.57,380.47 300,379.5 C311.43,378.53 331.78,376.07 343.6,375.5 C355.42,374.93 363.17,376.45 370.9,376.1 C378.63,375.75 384.55,374.65 390,373.4 C395.45,372.15 396.78,370.75 403.6,368.6 C410.42,366.45 421.8,363.3 430.9,360.5 C440,357.7 449.6,353.85 458.2,351.8 C466.8,349.75 474.63,348.68 482.5,348.2 C490.37,347.72 497.72,348.45 505.4,348.9 C513.08,349.35 520.87,350 528.6,350.9 C536.33,351.8 544.07,353.05 551.8,354.3 C559.53,355.55 567.3,357.15 575,358.4 C582.7,359.65 590.4,361.35 598,361.8 C605.6,362.25 612.92,361.43 620.6,361.1 C628.28,360.77 636.43,360.18 644.1,359.8 C651.77,359.42 659.03,358.92 666.6,358.8 C674.17,358.68 682.83,359.2 689.5,359.1 C696.17,359 699.07,359.45 706.6,358.2 C714.13,356.95 724.37,353.93 734.7,351.6 C745.03,349.27 759,346.3 768.6,344.2 C778.2,342.1 784.9,340.23 792.3,339 C799.7,337.77 805.88,337.78 813,336.8 C820.12,335.82 826.38,333.97 835,333.1 C843.62,332.23 856.07,331.72 864.7,331.6 C873.33,331.48 877.28,332.2 886.8,332.4 C896.32,332.6 911.72,333.8 921.8,332.8 C931.88,331.8 936.38,329.9 947.3,326.4 C958.22,322.9 972.45,319.38 987.3,311.8 C1002.15,304.22 1024.28,289.98 1036.4,280.9 C1048.52,271.82 1050,266.38 1060,257.3 C1070,248.22 1084.28,236.7 1096.4,226.4 C1108.52,216.1 1123.02,203.68 1132.7,195.5 C1142.38,187.32 1147.22,183.37 1154.5,177.3 C1161.78,171.23 1169.18,163.8 1176.4,159.1 C1183.62,154.4 1190.38,151.8 1197.8,149.1 C1205.22,146.4 1213.65,144.17 1220.9,142.9 C1228.15,141.63 1233.8,140.82 1241.3,141.5 C1248.8,142.18 1257.88,144.72 1265.9,147 C1273.92,149.28 1281.57,151.45 1289.4,155.2 C1297.23,158.95 1305.17,166.08 1312.9,169.5 C1320.63,172.92 1328.13,172.97 1335.8,175.7 C1343.47,178.43 1351.3,182.67 1358.9,185.9 C1366.5,189.13 1373.73,192.55 1381.4,195.1 C1389.07,197.65 1397.05,198.98 1404.9,201.2 C1412.75,203.42 1420.65,206.02 1428.5,208.4 C1436.35,210.78 1443.42,213.45 1452,215.5 C1460.58,217.55 1472.37,219.68 1480,220.7 C1487.63,221.72 1492.8,221.97 1497.8,221.6 C1502.8,221.23 1506.07,219.52 1510,218.5 C1513.93,217.48 1515.75,217.55 1521.4,215.5 C1527.05,213.45 1536.3,208.93 1543.9,206.2 C1551.5,203.47 1559.33,201.38 1567,199.1 C1574.67,196.82 1582.23,195.17 1589.9,192.5 C1597.57,189.83 1605.4,185.23 1613,183.1 C1620.6,180.97 1627.87,180.72 1635.5,179.7 C1643.13,178.68 1651.13,178.53 1658.8,177 C1666.47,175.47 1673.9,172.95 1681.5,170.5 C1689.1,168.05 1696.73,164.52 1704.4,162.3 C1712.07,160.08 1719.83,158.8 1727.5,157.2 C1735.17,155.6 1746.58,153.45 1750.4,152.7" fill="none" stroke="#1212dd" stroke-width="1"/>
<path d="M136.4,359.5 C138.78,360.93 146.23,365.63 150.7,368.1 C155.17,370.57 158.08,371.75 163.2,374.3 C168.32,376.85 176.28,381.12 181.4,383.4 C186.52,385.68 189.82,386.33 193.9,388 C197.98,389.67 201.17,391.17 205.9,393.4 C210.63,395.63 218.43,399.57 222.3,401.4 C226.17,403.23 226.27,403.62 229.1,404.4 C231.93,405.18 235.52,405.43 239.3,406.1 C243.08,406.77 247.63,409.15 251.8,408.4 C255.97,407.65 259.75,404.07 264.3,401.6 C268.85,399.13 273.8,397.38 279.1,393.6 C284.4,389.82 289.28,384.1 296.1,378.9 C302.92,373.7 313.43,366.62 320,362.4 C326.57,358.18 331.57,355.63 335.5,353.6 C339.43,351.57 339.75,350.98 343.6,350.2 C347.45,349.42 354.05,349.47 358.6,348.9 C363.15,348.33 367.93,347.6 370.9,346.8 C373.87,346 373.22,345 376.4,344.1 C379.58,343.2 384.32,341.52 390,341.4 C395.68,341.28 404.37,342.95 410.5,343.4 C416.63,343.85 421.88,344.25 426.8,344.1 C431.72,343.95 434.32,342.95 440,342.5 C445.68,342.05 453.82,341.4 460.9,341.4 C467.98,341.4 475.08,340.92 482.5,342.5 C489.92,344.08 497.72,347.68 505.4,350.9 C513.08,354.12 520.87,357.82 528.6,361.8 C536.33,365.78 543.9,371.23 551.8,374.8 C559.7,378.37 568.3,382.75 576,383.2 C583.7,383.65 590.57,379.93 598,377.5 C605.43,375.07 612.93,372.02 620.6,368.6 C628.27,365.18 636.33,360.75 644,357 C651.67,353.25 659.02,349.22 666.6,346.1 C674.18,342.98 681.6,340.22 689.5,338.3 C697.4,336.38 706.75,336.23 714,334.6 C721.25,332.97 725.33,330.05 733,328.5 C740.67,326.95 751.67,325.88 760,325.3 C768.33,324.72 775.4,324.55 783,325 C790.6,325.45 798.1,327 805.6,328 C813.1,329 820.43,329.9 828,331 C835.57,332.1 843.17,333.5 851,334.6 C858.83,335.7 867.33,336.73 875,337.6 C882.67,338.47 889.33,339.68 897,339.8 C904.67,339.92 913.23,340.23 921,338.3 C928.77,336.37 937.1,332.58 943.6,328.2 C950.1,323.82 955.15,316.87 960,312 C964.85,307.13 967.7,304.33 972.7,299 C977.7,293.67 983.95,287.25 990,280 C996.05,272.75 1002.83,264.43 1009,255.5 C1015.17,246.57 1021,236.1 1027,226.4 C1033,216.7 1038.9,206.1 1045,197.3 C1051.1,188.5 1057.47,180.57 1063.6,173.6 C1069.73,166.63 1074.82,163.07 1081.8,155.5 C1088.78,147.93 1098.22,134.87 1105.5,128.2 C1112.78,121.53 1118.53,117.8 1125.5,115.5 C1132.47,113.2 1139.43,113.8 1147.3,114.4 C1155.17,115 1164.25,116.92 1172.7,119.1 C1181.15,121.28 1189.97,123.87 1198,127.5 C1206.03,131.13 1215.03,136.62 1220.9,140.9 C1226.77,145.18 1229.12,149.12 1233.2,153.2 C1237.28,157.28 1239.95,160.63 1245.4,165.4 C1250.85,170.17 1258.57,175.67 1265.9,181.8 C1273.23,187.93 1282.58,196.75 1289.4,202.2 C1296.22,207.65 1301.18,211.08 1306.8,214.5 C1312.42,217.92 1318.33,220.82 1323.1,222.7 C1327.87,224.58 1329.25,225.28 1335.4,225.8 C1341.55,226.32 1353.18,226.65 1360,225.8 C1366.82,224.95 1370.52,222.23 1376.3,220.7 C1382.08,219.17 1389.92,218.13 1394.7,216.6 C1399.48,215.07 1399.88,212.7 1405,211.5 C1410.12,210.3 1417.57,209.07 1425.4,209.4 C1433.23,209.73 1443.75,212.67 1452,213.5 C1460.25,214.33 1467.27,213.4 1474.9,214.4 C1482.53,215.4 1490.05,219.32 1497.8,219.5 C1505.55,219.68 1513.72,217.72 1521.4,215.5 C1529.08,213.28 1536.3,210.98 1543.9,206.2 C1551.5,201.42 1559.33,193.78 1567,186.8 C1574.67,179.82 1582.23,171.12 1589.9,164.3 C1597.57,157.48 1605.4,150.4 1613,145.9 C1620.6,141.4 1627.87,139.52 1635.5,137.3 C1643.13,135.08 1651.13,133.48 1658.8,132.6 C1666.47,131.72 1675.43,131.48 1681.5,132 C1687.57,132.52 1691.38,134.23 1695.2,135.7 C1699.02,137.17 1699.02,137.73 1704.4,140.8 C1709.78,143.87 1721.18,151.27 1727.5,154.1 C1733.82,156.93 1738.48,156.85 1742.3,157.8 C1746.12,158.75 1749.05,159.47 1750.4,159.8" fill="none" stroke="#1414b4" stroke-width="1.05" stroke-dasharray="3,3"/>
<rect x="33" y="35" width="1" height="390" fill="#000"/>
<rect x="33" y="424" width="1730.3" height="1" fill="#000"/>
<text class="t" x="1350.5" y="305.6">Commerzbank AG 16.7.12 -26.10.12</text>
<text class="t" x="1350.5" y="332.8" letter-spacing="-0.26">momentan wunderbar zum Zocken</text>
<text class="t" x="1350.5" y="359.8" letter-spacing="-0.07">geeignet. Indikatoren stimmen 100%</text>
<text class="t" x="1350.5" y="386.8">Bild unterliegt keinerlei © !</text>
<rect x="0" y="455" width="1765" height="1" fill="#000"/>
<rect x="36" y="456" width="1" height="4" fill="#c8c8c8"/>
<rect x="59" y="456" width="1" height="4" fill="#c8c8c8"/>
<rect x="82" y="456" width="1" height="4" fill="#c8c8c8"/>
<rect x="105" y="456" width="1" height="4" fill="#c8c8c8"/>
<rect x="128" y="456" width="1" height="4" fill="#c8c8c8"/>
<rect x="151" y="456" width="1" height="4" fill="#c8c8c8"/>
<rect x="174" y="456" width="1" height="4" fill="#c8c8c8"/>
<rect x="197" y="456" width="1" height="4" fill="#c8c8c8"/>
<rect x="220" y="456" width="1" height="4" fill="#c8c8c8"/>
<rect x="243" y="456" width="1" height="4" fill="#c8c8c8"/>
<rect x="266" y="456" width="1" height="4" fill="#c8c8c8"/>
<rect x="289" y="456" width="1" height="4" fill="#c8c8c8"/>
<rect x="312" y="456" width="1" height="4" fill="#c8c8c8"/>
<rect x="335" y="456" width="1" height="4" fill="#c8c8c8"/>
<rect x="358" y="456" width="1" height="4" fill="#c8c8c8"/>
<rect x="381" y="456" width="1" height="4" fill="#c8c8c8"/>
<rect x="404" y="456" width="1" height="4" fill="#c8c8c8"/>
<rect x="427" y="456" width="1" height="4" fill="#c8c8c8"/>
<rect x="450" y="456" width="1" height="4" fill="#c8c8c8"/>
<rect x="473" y="456" width="1" height="4" fill="#c8c8c8"/>
<rect x="496" y="456" width="1" height="4" fill="#c8c8c8"/>
<rect x="519" y="456" width="1" height="4" fill="#c8c8c8"/>
<rect x="542" y="456" width="1" height="4" fill="#c8c8c8"/>
<rect x="565" y="456" width="1" height="4" fill="#c8c8c8"/>
<rect x="588" y="456" width="1" height="4" fill="#c8c8c8"/>
<rect x="611" y="456" width="1" height="4" fill="#c8c8c8"/>
<rect x="634" y="456" width="1" height="4" fill="#c8c8c8"/>
<rect x="657" y="456" width="1" height="4" fill="#c8c8c8"/>
<rect x="680" y="456" width="1" height="4" fill="#c8c8c8"/>
<rect x="703" y="456" width="1" height="4" fill="#c8c8c8"/>
<rect x="726" y="456" width="1" height="4" fill="#c8c8c8"/>
<rect x="749" y="456" width="1" height="4" fill="#c8c8c8"/>
<rect x="772" y="456" width="1" height="4" fill="#c8c8c8"/>
<rect x="795" y="456" width="1" height="4" fill="#c8c8c8"/>
<rect x="818" y="456" width="1" height="4" fill="#c8c8c8"/>
<rect x="841" y="456" width="1" height="4" fill="#c8c8c8"/>
<rect x="864" y="456" width="1" height="4" fill="#c8c8c8"/>
<rect x="887" y="456" width="1" height="4" fill="#c8c8c8"/>
<rect x="910" y="456" width="1" height="4" fill="#c8c8c8"/>
<rect x="933" y="456" width="1" height="4" fill="#c8c8c8"/>
<rect x="956" y="456" width="1" height="4" fill="#c8c8c8"/>
<rect x="979" y="456" width="1" height="4" fill="#c8c8c8"/>
<rect x="1002" y="456" width="1" height="4" fill="#c8c8c8"/>
<rect x="1025" y="456" width="1" height="4" fill="#c8c8c8"/>
<rect x="1048" y="456" width="1" height="4" fill="#c8c8c8"/>
<rect x="1071" y="456" width="1" height="4" fill="#c8c8c8"/>
<rect x="1094" y="456" width="1" height="4" fill="#c8c8c8"/>
<rect x="1117" y="456" width="1" height="4" fill="#c8c8c8"/>
<rect x="1140" y="456" width="1" height="4" fill="#c8c8c8"/>
<rect x="1163" y="456" width="1" height="4" fill="#c8c8c8"/>
<rect x="1186" y="456" width="1" height="4" fill="#c8c8c8"/>
<rect x="1209" y="456" width="1" height="4" fill="#c8c8c8"/>
<rect x="1232" y="456" width="1" height="4" fill="#c8c8c8"/>
<rect x="1255" y="456" width="1" height="4" fill="#c8c8c8"/>
<rect x="1278" y="456" width="1" height="4" fill="#c8c8c8"/>
<rect x="1301" y="456" width="1" height="4" fill="#c8c8c8"/>
<rect x="1324" y="456" width="1" height="4" fill="#c8c8c8"/>
<rect x="1347" y="456" width="1" height="4" fill="#c8c8c8"/>
<rect x="1370" y="456" width="1" height="4" fill="#c8c8c8"/>
<rect x="1393" y="456" width="1" height="4" fill="#c8c8c8"/>
<rect x="1416" y="456" width="1" height="4" fill="#c8c8c8"/>
<rect x="1439" y="456" width="1" height="4" fill="#c8c8c8"/>
<rect x="1462" y="456" width="1" height="4" fill="#c8c8c8"/>
<rect x="1485" y="456" width="1" height="4" fill="#c8c8c8"/>
<rect x="1508" y="456" width="1" height="4" fill="#c8c8c8"/>
<rect x="1531" y="456" width="1" height="4" fill="#c8c8c8"/>
<rect x="1554" y="456" width="1" height="4" fill="#c8c8c8"/>
<rect x="1577" y="456" width="1" height="4" fill="#c8c8c8"/>
<rect x="1600" y="456" width="1" height="4" fill="#c8c8c8"/>
<rect x="1623" y="456" width="1" height="4" fill="#c8c8c8"/>
<rect x="1646" y="456" width="1" height="4" fill="#c8c8c8"/>
<rect x="1669" y="456" width="1" height="4" fill="#c8c8c8"/>
<rect x="1692" y="456" width="1" height="4" fill="#c8c8c8"/>
<rect x="1715" y="456" width="1" height="4" fill="#c8c8c8"/>
<rect x="1738" y="456" width="1" height="4" fill="#c8c8c8"/>
<rect x="1761" y="456" width="1" height="4" fill="#c8c8c8"/>
<rect x="0" y="460" width="36" height="1" fill="#c4c4c4"/>
<rect x="0" y="477" width="36" height="1" fill="#c4c4c4"/>
<rect x="36" y="460" width="1726" height="1" fill="#000"/>
<rect x="36" y="461" width="23" height="16" fill="#008000"/>
<rect x="59" y="461" width="23" height="16" fill="#008000"/>
<rect x="82" y="461" width="23" height="16" fill="#008000"/>
<rect x="128" y="461" width="23" height="16" fill="#00ff00"/>
<rect x="151" y="461" width="23" height="16" fill="#008000"/>
<rect x="335" y="461" width="23" height="16" fill="#339966"/>
<rect x="450" y="461" width="23" height="16" fill="#00ff00"/>
<rect x="473" y="461" width="23" height="16" fill="#339966"/>
<rect x="496" y="461" width="23" height="16" fill="#339966"/>
<rect x="519" y="461" width="23" height="16" fill="#008000"/>
<rect x="772" y="461" width="23" height="16" fill="#00ff00"/>
<rect x="795" y="461" width="23" height="16" fill="#00ff00"/>
<rect x="818" y="461" width="23" height="16" fill="#339966"/>
<rect x="841" y="461" width="23" height="16" fill="#00ff00"/>
<rect x="864" y="461" width="23" height="16" fill="#00ff00"/>
<rect x="1140" y="461" width="23" height="16" fill="#00ff00"/>
<rect x="1186" y="461" width="23" height="16" fill="#339966"/>
<rect x="1232" y="461" width="23" height="16" fill="#339966"/>
<rect x="1255" y="461" width="23" height="16" fill="#339966"/>
<rect x="1278" y="461" width="23" height="16" fill="#008000"/>
<rect x="1416" y="461" width="23" height="16" fill="#339966"/>
<rect x="1439" y="461" width="23" height="16" fill="#00ff00"/>
<rect x="1623" y="461" width="23" height="16" fill="#00ff00"/>
<rect x="1692" y="461" width="23" height="16" fill="#00ff00"/>
<rect x="1715" y="461" width="23" height="16" fill="#00ff00"/>
<rect x="1738" y="461" width="23" height="16" fill="#339966"/>
<rect x="36" y="477" width="1726" height="1" fill="#000"/>
<rect x="36" y="461" width="1" height="17" fill="#000"/>
<rect x="59" y="461" width="1" height="17" fill="#000"/>
<rect x="82" y="461" width="1" height="17" fill="#000"/>
<rect x="105" y="461" width="1" height="17" fill="#000"/>
<rect x="128" y="461" width="1" height="17" fill="#000"/>
<rect x="151" y="461" width="1" height="17" fill="#000"/>
<rect x="174" y="461" width="1" height="17" fill="#000"/>
<rect x="197" y="461" width="1" height="17" fill="#000"/>
<rect x="220" y="461" width="1" height="17" fill="#000"/>
<rect x="243" y="461" width="1" height="17" fill="#000"/>
<rect x="266" y="461" width="1" height="17" fill="#000"/>
<rect x="289" y="461" width="1" height="17" fill="#000"/>
<rect x="312" y="461" width="1" height="17" fill="#000"/>
<rect x="335" y="461" width="1" height="17" fill="#000"/>
<rect x="358" y="461" width="1" height="17" fill="#000"/>
<rect x="381" y="461" width="1" height="17" fill="#000"/>
<rect x="404" y="461" width="1" height="17" fill="#000"/>
<rect x="427" y="461" width="1" height="17" fill="#000"/>
<rect x="450" y="461" width="1" height="17" fill="#000"/>
<rect x="473" y="461" width="1" height="17" fill="#000"/>
<rect x="496" y="461" width="1" height="17" fill="#000"/>
<rect x="519" y="461" width="1" height="17" fill="#000"/>
<rect x="542" y="461" width="1" height="17" fill="#000"/>
<rect x="565" y="461" width="1" height="17" fill="#000"/>
<rect x="588" y="461" width="1" height="17" fill="#000"/>
<rect x="611" y="461" width="1" height="17" fill="#000"/>
<rect x="634" y="461" width="1" height="17" fill="#000"/>
<rect x="657" y="461" width="1" height="17" fill="#000"/>
<rect x="680" y="461" width="1" height="17" fill="#000"/>
<rect x="703" y="461" width="1" height="17" fill="#000"/>
<rect x="726" y="461" width="1" height="17" fill="#000"/>
<rect x="749" y="461" width="1" height="17" fill="#000"/>
<rect x="772" y="461" width="1" height="17" fill="#000"/>
<rect x="795" y="461" width="1" height="17" fill="#000"/>
<rect x="818" y="461" width="1" height="17" fill="#000"/>
<rect x="841" y="461" width="1" height="17" fill="#000"/>
<rect x="864" y="461" width="1" height="17" fill="#000"/>
<rect x="887" y="461" width="1" height="17" fill="#000"/>
<rect x="910" y="461" width="1" height="17" fill="#000"/>
<rect x="933" y="461" width="1" height="17" fill="#000"/>
<rect x="956" y="461" width="1" height="17" fill="#000"/>
<rect x="979" y="461" width="1" height="17" fill="#000"/>
<rect x="1002" y="461" width="1" height="17" fill="#000"/>
<rect x="1025" y="461" width="1" height="17" fill="#000"/>
<rect x="1048" y="461" width="1" height="17" fill="#000"/>
<rect x="1071" y="461" width="1" height="17" fill="#000"/>
<rect x="1094" y="461" width="1" height="17" fill="#000"/>
<rect x="1117" y="461" width="1" height="17" fill="#000"/>
<rect x="1140" y="461" width="1" height="17" fill="#000"/>
<rect x="1163" y="461" width="1" height="17" fill="#000"/>
<rect x="1186" y="461" width="1" height="17" fill="#000"/>
<rect x="1209" y="461" width="1" height="17" fill="#000"/>
<rect x="1232" y="461" width="1" height="17" fill="#000"/>
<rect x="1255" y="461" width="1" height="17" fill="#000"/>
<rect x="1278" y="461" width="1" height="17" fill="#000"/>
<rect x="1301" y="461" width="1" height="17" fill="#000"/>
<rect x="1324" y="461" width="1" height="17" fill="#000"/>
<rect x="1347" y="461" width="1" height="17" fill="#000"/>
<rect x="1370" y="461" width="1" height="17" fill="#000"/>
<rect x="1393" y="461" width="1" height="17" fill="#000"/>
<rect x="1416" y="461" width="1" height="17" fill="#000"/>
<rect x="1439" y="461" width="1" height="17" fill="#000"/>
<rect x="1462" y="461" width="1" height="17" fill="#000"/>
<rect x="1485" y="461" width="1" height="17" fill="#000"/>
<rect x="1508" y="461" width="1" height="17" fill="#000"/>
<rect x="1531" y="461" width="1" height="17" fill="#000"/>
<rect x="1554" y="461" width="1" height="17" fill="#000"/>
<rect x="1577" y="461" width="1" height="17" fill="#000"/>
<rect x="1600" y="461" width="1" height="17" fill="#000"/>
<rect x="1623" y="461" width="1" height="17" fill="#000"/>
<rect x="1646" y="461" width="1" height="17" fill="#000"/>
<rect x="1669" y="461" width="1" height="17" fill="#000"/>
<rect x="1692" y="461" width="1" height="17" fill="#000"/>
<rect x="1715" y="461" width="1" height="17" fill="#000"/>
<rect x="1738" y="461" width="1" height="17" fill="#000"/>
<rect x="1761" y="461" width="1" height="17" fill="#000"/>
<text x="57" y="474.2" text-anchor="end" class="c">3</text>
<text x="80" y="474.2" text-anchor="end" class="c">3</text>
<text x="103" y="474.2" text-anchor="end" class="c">3</text>
<text x="126" y="474.2" text-anchor="end" class="c">0</text>
<text x="149" y="474.2" text-anchor="end" class="c">1</text>
<text x="172" y="474.2" text-anchor="end" class="c">3</text>
<text x="195" y="474.2" text-anchor="end" class="c">0</text>
<text x="218" y="474.2" text-anchor="end" class="c">0</text>
<text x="241" y="474.2" text-anchor="end" class="c">0</text>
<text x="264" y="474.2" text-anchor="end" class="c">0</text>
<text x="287" y="474.2" text-anchor="end" class="c">0</text>
<text x="310" y="474.2" text-anchor="end" class="c">0</text>
<text x="333" y="474.2" text-anchor="end" class="c">0</text>
<text x="356" y="474.2" text-anchor="end" class="c">2</text>
<text x="379" y="474.2" text-anchor="end" class="c">0</text>
<text x="402" y="474.2" text-anchor="end" class="c">0</text>
<text x="425" y="474.2" text-anchor="end" class="c">0</text>
<text x="448" y="474.2" text-anchor="end" class="c">0</text>
<text x="471" y="474.2" text-anchor="end" class="c">1</text>
<text x="494" y="474.2" text-anchor="end" class="c">2</text>
<text x="517" y="474.2" text-anchor="end" class="c">2</text>
<text x="540" y="474.2" text-anchor="end" class="c">3</text>
<text x="563" y="474.2" text-anchor="end" class="c">0</text>
<text x="586" y="474.2" text-anchor="end" class="c">0</text>
<text x="609" y="474.2" text-anchor="end" class="c">0</text>
<text x="632" y="474.2" text-anchor="end" class="c">0</text>
<text x="655" y="474.2" text-anchor="end" class="c">0</text>
<text x="678" y="474.2" text-anchor="end" class="c">0</text>
<text x="701" y="474.2" text-anchor="end" class="c">0</text>
<text x="724" y="474.2" text-anchor="end" class="c">0</text>
<text x="747" y="474.2" text-anchor="end" class="c">0</text>
<text x="770" y="474.2" text-anchor="end" class="c">0</text>
<text x="793" y="474.2" text-anchor="end" class="c">1</text>
<text x="816" y="474.2" text-anchor="end" class="c">1</text>
<text x="839" y="474.2" text-anchor="end" class="c">2</text>
<text x="862" y="474.2" text-anchor="end" class="c">1</text>
<text x="885" y="474.2" text-anchor="end" class="c">1</text>
<text x="908" y="474.2" text-anchor="end" class="c">0</text>
<text x="931" y="474.2" text-anchor="end" class="c">0</text>
<text x="954" y="474.2" text-anchor="end" class="c">0</text>
<text x="977" y="474.2" text-anchor="end" class="c">0</text>
<text x="1000" y="474.2" text-anchor="end" class="c">0</text>
<text x="1023" y="474.2" text-anchor="end" class="c">0</text>
<text x="1046" y="474.2" text-anchor="end" class="c">0</text>
<text x="1069" y="474.2" text-anchor="end" class="c">0</text>
<text x="1092" y="474.2" text-anchor="end" class="c">0</text>
<text x="1115" y="474.2" text-anchor="end" class="c">0</text>
<text x="1138" y="474.2" text-anchor="end" class="c">0</text>
<text x="1161" y="474.2" text-anchor="end" class="c">1</text>
<text x="1184" y="474.2" text-anchor="end" class="c">0</text>
<text x="1207" y="474.2" text-anchor="end" class="c">2</text>
<text x="1230" y="474.2" text-anchor="end" class="c">0</text>
<text x="1253" y="474.2" text-anchor="end" class="c">2</text>
<text x="1276" y="474.2" text-anchor="end" class="c">2</text>
<text x="1299" y="474.2" text-anchor="end" class="c">3</text>
<text x="1322" y="474.2" text-anchor="end" class="c">0</text>
<text x="1345" y="474.2" text-anchor="end" class="c">0</text>
<text x="1368" y="474.2" text-anchor="end" class="c">0</text>
<text x="1391" y="474.2" text-anchor="end" class="c">0</text>
<text x="1414" y="474.2" text-anchor="end" class="c">0</text>
<text x="1437" y="474.2" text-anchor="end" class="c">2</text>
<text x="1460" y="474.2" text-anchor="end" class="c">1</text>
<text x="1483" y="474.2" text-anchor="end" class="c">0</text>
<text x="1506" y="474.2" text-anchor="end" class="c">0</text>
<text x="1529" y="474.2" text-anchor="end" class="c">0</text>
<text x="1552" y="474.2" text-anchor="end" class="c">0</text>
<text x="1575" y="474.2" text-anchor="end" class="c">0</text>
<text x="1598" y="474.2" text-anchor="end" class="c">0</text>
<text x="1621" y="474.2" text-anchor="end" class="c">0</text>
<text x="1644" y="474.2" text-anchor="end" class="c">1</text>
<text x="1667" y="474.2" text-anchor="end" class="c">0</text>
<text x="1690" y="474.2" text-anchor="end" class="c">0</text>
<text x="1713" y="474.2" text-anchor="end" class="c">1</text>
<text x="1736" y="474.2" text-anchor="end" class="c">1</text>
<text x="1759" y="474.2" text-anchor="end" class="c">2</text>
<rect x="13" y="479" width="1752" height="1" fill="#000"/>
<rect x="13" y="479" width="1" height="401" fill="#000"/>
<rect x="0" y="494" width="13" height="1" fill="#c4c4c4"/>
<rect x="0" y="511" width="13" height="1" fill="#c4c4c4"/>
<rect x="0" y="528" width="13" height="1" fill="#c4c4c4"/>
<rect x="0" y="545" width="13" height="1" fill="#c4c4c4"/>
<rect x="0" y="562" width="13" height="1" fill="#c4c4c4"/>
<rect x="0" y="579" width="13" height="1" fill="#c4c4c4"/>
<rect x="0" y="596" width="13" height="1" fill="#c4c4c4"/>
<rect x="0" y="613" width="13" height="1" fill="#c4c4c4"/>
<rect x="0" y="630" width="13" height="1" fill="#c4c4c4"/>
<rect x="0" y="647" width="13" height="1" fill="#c4c4c4"/>
<rect x="0" y="664" width="13" height="1" fill="#c4c4c4"/>
<rect x="0" y="681" width="13" height="1" fill="#c4c4c4"/>
<rect x="0" y="698" width="13" height="1" fill="#c4c4c4"/>
<rect x="0" y="715" width="13" height="1" fill="#c4c4c4"/>
<rect x="0" y="732" width="13" height="1" fill="#c4c4c4"/>
<rect x="0" y="749" width="13" height="1" fill="#c4c4c4"/>
<rect x="0" y="766" width="13" height="1" fill="#c4c4c4"/>
<rect x="0" y="783" width="13" height="1" fill="#c4c4c4"/>
<rect x="0" y="800" width="13" height="1" fill="#c4c4c4"/>
<rect x="0" y="817" width="13" height="1" fill="#c4c4c4"/>
<rect x="0" y="834" width="13" height="1" fill="#c4c4c4"/>
<rect x="0" y="851" width="13" height="1" fill="#c4c4c4"/>
<rect x="0" y="868" width="13" height="1" fill="#c4c4c4"/>
<line x1="34.5" y1="495.5" x2="1763.5" y2="495.5" stroke="#808080"/>
<line x1="1763.5" y1="495.5" x2="1763.5" y2="875.5" stroke="#808080"/>
<line x1="34.5" y1="875.5" x2="1763.5" y2="875.5" stroke="#808080"/>
<rect x="34" y="495" width="1" height="381" fill="#000"/>
<rect x="31" y="875" width="4" height="1" fill="#000"/>
<text x="26" y="879" text-anchor="end" class="a">1</text>
<rect x="34" y="714" width="1729.5" height="1" fill="#000"/>
<rect x="34" y="715" width="1" height="3" fill="#000"/>
<rect x="57" y="715" width="1" height="3" fill="#000"/>
<rect x="80" y="715" width="1" height="3" fill="#000"/>
<rect x="103" y="715" width="1" height="3" fill="#000"/>
<rect x="126" y="715" width="1" height="3" fill="#000"/>
<rect x="149" y="715" width="1" height="3" fill="#000"/>
<rect x="172" y="715" width="1" height="3" fill="#000"/>
<rect x="195" y="715" width="1" height="3" fill="#000"/>
<rect x="218" y="715" width="1" height="3" fill="#000"/>
<rect x="241" y="715" width="1" height="3" fill="#000"/>
<rect x="264" y="715" width="1" height="3" fill="#000"/>
<rect x="287" y="715" width="1" height="3" fill="#000"/>
<rect x="310" y="715" width="1" height="3" fill="#000"/>
<rect x="333" y="715" width="1" height="3" fill="#000"/>
<rect x="357" y="715" width="1" height="3" fill="#000"/>
<rect x="380" y="715" width="1" height="3" fill="#000"/>
<rect x="403" y="715" width="1" height="3" fill="#000"/>
<rect x="426" y="715" width="1" height="3" fill="#000"/>
<rect x="449" y="715" width="1" height="3" fill="#000"/>
<rect x="472" y="715" width="1" height="3" fill="#000"/>
<rect x="495" y="715" width="1" height="3" fill="#000"/>
<rect x="518" y="715" width="1" height="3" fill="#000"/>
<rect x="541" y="715" width="1" height="3" fill="#000"/>
<rect x="564" y="715" width="1" height="3" fill="#000"/>
<rect x="587" y="715" width="1" height="3" fill="#000"/>
<rect x="610" y="715" width="1" height="3" fill="#000"/>
<rect x="633" y="715" width="1" height="3" fill="#000"/>
<rect x="656" y="715" width="1" height="3" fill="#000"/>
<rect x="679" y="715" width="1" height="3" fill="#000"/>
<rect x="702" y="715" width="1" height="3" fill="#000"/>
<rect x="725" y="715" width="1" height="3" fill="#000"/>
<rect x="748" y="715" width="1" height="3" fill="#000"/>
<rect x="772" y="715" width="1" height="3" fill="#000"/>
<rect x="795" y="715" width="1" height="3" fill="#000"/>
<rect x="818" y="715" width="1" height="3" fill="#000"/>
<rect x="841" y="715" width="1" height="3" fill="#000"/>
<rect x="864" y="715" width="1" height="3" fill="#000"/>
<rect x="887" y="715" width="1" height="3" fill="#000"/>
<rect x="910" y="715" width="1" height="3" fill="#000"/>
<rect x="933" y="715" width="1" height="3" fill="#000"/>
<rect x="956" y="715" width="1" height="3" fill="#000"/>
<rect x="979" y="715" width="1" height="3" fill="#000"/>
<rect x="1002" y="715" width="1" height="3" fill="#000"/>
<rect x="1025" y="715" width="1" height="3" fill="#000"/>
<rect x="1048" y="715" width="1" height="3" fill="#000"/>
<rect x="1071" y="715" width="1" height="3" fill="#000"/>
<rect x="1094" y="715" width="1" height="3" fill="#000"/>
<rect x="1117" y="715" width="1" height="3" fill="#000"/>
<rect x="1140" y="715" width="1" height="3" fill="#000"/>
<rect x="1163" y="715" width="1" height="3" fill="#000"/>
<rect x="1187" y="715" width="1" height="3" fill="#000"/>
<rect x="1210" y="715" width="1" height="3" fill="#000"/>
<rect x="1233" y="715" width="1" height="3" fill="#000"/>
<rect x="1256" y="715" width="1" height="3" fill="#000"/>
<rect x="1279" y="715" width="1" height="3" fill="#000"/>
<rect x="1302" y="715" width="1" height="3" fill="#000"/>
<rect x="1325" y="715" width="1" height="3" fill="#000"/>
<rect x="1348" y="715" width="1" height="3" fill="#000"/>
<rect x="1371" y="715" width="1" height="3" fill="#000"/>
<rect x="1394" y="715" width="1" height="3" fill="#000"/>
<rect x="1417" y="715" width="1" height="3" fill="#000"/>
<rect x="1440" y="715" width="1" height="3" fill="#000"/>
<rect x="1463" y="715" width="1" height="3" fill="#000"/>
<rect x="1486" y="715" width="1" height="3" fill="#000"/>
<rect x="1509" y="715" width="1" height="3" fill="#000"/>
<rect x="1532" y="715" width="1" height="3" fill="#000"/>
<rect x="1555" y="715" width="1" height="3" fill="#000"/>
<rect x="1578" y="715" width="1" height="3" fill="#000"/>
<rect x="1601" y="715" width="1" height="3" fill="#000"/>
<rect x="1625" y="715" width="1" height="3" fill="#000"/>
<rect x="1648" y="715" width="1" height="3" fill="#000"/>
<rect x="1671" y="715" width="1" height="3" fill="#000"/>
<rect x="1694" y="715" width="1" height="3" fill="#000"/>
<rect x="1717" y="715" width="1" height="3" fill="#000"/>
<rect x="1740" y="715" width="1" height="3" fill="#000"/>
<rect x="1763" y="715" width="1" height="3" fill="#000"/>
<text x="46.02" y="734.5" text-anchor="middle" class="a">1</text>
<text x="69.08" y="734.5" text-anchor="middle" class="a">2</text>
<text x="92.12" y="734.5" text-anchor="middle" class="a">3</text>
<text x="115.17" y="734.5" text-anchor="middle" class="a">4</text>
<text x="138.23" y="734.5" text-anchor="middle" class="a">5</text>
<text x="161.28" y="734.5" text-anchor="middle" class="a">6</text>
<text x="184.33" y="734.5" text-anchor="middle" class="a">7</text>
<text x="207.38" y="734.5" text-anchor="middle" class="a">8</text>
<text x="230.43" y="734.5" text-anchor="middle" class="a">9</text>
<text x="253.47" y="734.5" text-anchor="middle" class="a">10</text>
<text x="276.52" y="734.5" text-anchor="middle" class="a">11</text>
<text x="299.57" y="734.5" text-anchor="middle" class="a">12</text>
<text x="322.62" y="734.5" text-anchor="middle" class="a">13</text>
<text x="345.68" y="734.5" text-anchor="middle" class="a">14</text>
<text x="368.73" y="734.5" text-anchor="middle" class="a">15</text>
<text x="391.78" y="734.5" text-anchor="middle" class="a">16</text>
<text x="414.82" y="734.5" text-anchor="middle" class="a">17</text>
<text x="437.88" y="734.5" text-anchor="middle" class="a">18</text>
<text x="460.93" y="734.5" text-anchor="middle" class="a">19</text>
<text x="483.98" y="734.5" text-anchor="middle" class="a">20</text>
<text x="507.03" y="734.5" text-anchor="middle" class="a">21</text>
<text x="530.08" y="734.5" text-anchor="middle" class="a">22</text>
<text x="553.12" y="734.5" text-anchor="middle" class="a">23</text>
<text x="576.18" y="734.5" text-anchor="middle" class="a">24</text>
<text x="599.23" y="734.5" text-anchor="middle" class="a">25</text>
<text x="622.27" y="734.5" text-anchor="middle" class="a">26</text>
<text x="645.33" y="734.5" text-anchor="middle" class="a">27</text>
<text x="668.38" y="734.5" text-anchor="middle" class="a">28</text>
<text x="691.43" y="734.5" text-anchor="middle" class="a">29</text>
<text x="714.48" y="734.5" text-anchor="middle" class="a">30</text>
<text x="737.52" y="734.5" text-anchor="middle" class="a">31</text>
<text x="760.58" y="734.5" text-anchor="middle" class="a">32</text>
<text x="783.62" y="734.5" text-anchor="middle" class="a">33</text>
<text x="806.68" y="734.5" text-anchor="middle" class="a">34</text>
<text x="829.73" y="734.5" text-anchor="middle" class="a">35</text>
<text x="852.77" y="734.5" text-anchor="middle" class="a">36</text>
<text x="875.83" y="734.5" text-anchor="middle" class="a">37</text>
<text x="898.88" y="734.5" text-anchor="middle" class="a">38</text>
<text x="921.93" y="734.5" text-anchor="middle" class="a">39</text>
<text x="944.98" y="734.5" text-anchor="middle" class="a">40</text>
<text x="968.02" y="734.5" text-anchor="middle" class="a">41</text>
<text x="991.08" y="734.5" text-anchor="middle" class="a">42</text>
<text x="1014.12" y="734.5" text-anchor="middle" class="a">43</text>
<text x="1037.18" y="734.5" text-anchor="middle" class="a">44</text>
<text x="1060.23" y="734.5" text-anchor="middle" class="a">45</text>
<text x="1083.28" y="734.5" text-anchor="middle" class="a">46</text>
<text x="1106.33" y="734.5" text-anchor="middle" class="a">47</text>
<text x="1129.38" y="734.5" text-anchor="middle" class="a">48</text>
<text x="1152.42" y="734.5" text-anchor="middle" class="a">49</text>
<text x="1175.48" y="734.5" text-anchor="middle" class="a">50</text>
<text x="1198.53" y="734.5" text-anchor="middle" class="a">51</text>
<text x="1221.58" y="734.5" text-anchor="middle" class="a">52</text>
<text x="1244.62" y="734.5" text-anchor="middle" class="a">53</text>
<text x="1267.67" y="734.5" text-anchor="middle" class="a">54</text>
<text x="1290.73" y="734.5" text-anchor="middle" class="a">55</text>
<text x="1313.78" y="734.5" text-anchor="middle" class="a">56</text>
<text x="1336.83" y="734.5" text-anchor="middle" class="a">57</text>
<text x="1359.88" y="734.5" text-anchor="middle" class="a">58</text>
<text x="1382.92" y="734.5" text-anchor="middle" class="a">59</text>
<text x="1405.98" y="734.5" text-anchor="middle" class="a">60</text>
<text x="1429.03" y="734.5" text-anchor="middle" class="a">61</text>
<text x="1452.08" y="734.5" text-anchor="middle" class="a">62</text>
<text x="1475.12" y="734.5" text-anchor="middle" class="a">63</text>
<text x="1498.17" y="734.5" text-anchor="middle" class="a">64</text>
<text x="1521.23" y="734.5" text-anchor="middle" class="a">65</text>
<text x="1544.28" y="734.5" text-anchor="middle" class="a">66</text>
<text x="1567.33" y="734.5" text-anchor="middle" class="a">67</text>
<text x="1590.38" y="734.5" text-anchor="middle" class="a">68</text>
<text x="1613.42" y="734.5" text-anchor="middle" class="a">69</text>
<text x="1636.48" y="734.5" text-anchor="middle" class="a">70</text>
<text x="1659.53" y="734.5" text-anchor="middle" class="a">71</text>
<text x="1682.58" y="734.5" text-anchor="middle" class="a">72</text>
<text x="1705.62" y="734.5" text-anchor="middle" class="a">73</text>
<text x="1728.67" y="734.5" text-anchor="middle" class="a">74</text>
<text x="1751.73" y="734.5" text-anchor="middle" class="a">75</text>
<polyline points="45.78,738.5 68.83,763.4 91.89,764.5 114.94,698.3 138,735.1 161.05,873.9 184.11,809.1 207.16,756.3 230.22,620.2 253.28,605.2 276.33,613.8 299.39,632.5 322.44,684.5 345.5,788.3 368.55,734.1 391.61,655.3 414.66,723.8 437.72,698.3 460.77,751.5 483.83,859.6 506.88,793.6 529.94,760.3 553,727.4 576.05,658.1 599.11,592.5 622.16,692.1 645.22,660.8 668.27,677.9 691.33,719.3 714.38,726 737.44,691 760.49,745.3 783.55,744.4 806.6,760.5 829.66,727.7 852.71,708.3 875.77,733 898.83,738.7 921.88,633.2 944.94,510.4 967.99,495.7 991.05,629.2 1014.1,504.4 1037.16,616.7 1060.21,629.8 1083.27,659.8 1106.32,714.1 1129.38,715.6 1152.43,796.4 1175.49,749.1 1198.54,798.2 1221.6,775.1 1244.65,847.5 1267.71,825.4 1290.77,789.9 1313.82,720.5 1336.88,650.1 1359.93,711.1 1382.99,716.4 1406.04,695 1429.1,764.1 1452.15,767.2 1475.21,726.5 1498.26,674 1521.32,630.6 1544.37,652.5 1567.43,610.5 1590.48,622.2 1613.54,654.4 1636.6,773.3 1659.65,747.5 1682.71,737.5 1705.76,788.1 1728.82,768.5 1751.87,777.3" fill="none" stroke="#000080" stroke-width="1.15" stroke-dasharray="15,6"/>
<polygon points="45.78,734.7 49.58,738.5 45.78,742.3 41.98,738.5" fill="#000080"/>
<polygon points="68.83,759.6 72.63,763.4 68.83,767.2 65.03,763.4" fill="#000080"/>
<polygon points="91.89,760.7 95.69,764.5 91.89,768.3 88.09,764.5" fill="#000080"/>
<polygon points="114.94,694.5 118.74,698.3 114.94,702.1 111.14,698.3" fill="#000080"/>
<polygon points="138,731.3 141.8,735.1 138,738.9 134.2,735.1" fill="#000080"/>
<polygon points="161.05,870.1 164.85,873.9 161.05,877.7 157.25,873.9" fill="#000080"/>
<polygon points="184.11,805.3 187.91,809.1 184.11,812.9 180.31,809.1" fill="#000080"/>
<polygon points="207.16,752.5 210.97,756.3 207.16,760.1 203.36,756.3" fill="#000080"/>
<polygon points="230.22,616.4 234.02,620.2 230.22,624 226.42,620.2" fill="#000080"/>
<polygon points="253.28,601.4 257.08,605.2 253.28,609 249.48,605.2" fill="#000080"/>
<polygon points="276.33,610 280.13,613.8 276.33,617.6 272.53,613.8" fill="#000080"/>
<polygon points="299.39,628.7 303.19,632.5 299.39,636.3 295.59,632.5" fill="#000080"/>
<polygon points="322.44,680.7 326.24,684.5 322.44,688.3 318.64,684.5" fill="#000080"/>
<polygon points="345.5,784.5 349.3,788.3 345.5,792.1 341.7,788.3" fill="#000080"/>
<polygon points="368.55,730.3 372.35,734.1 368.55,737.9 364.75,734.1" fill="#000080"/>
<polygon points="391.61,651.5 395.41,655.3 391.61,659.1 387.81,655.3" fill="#000080"/>
<polygon points="414.66,720 418.46,723.8 414.66,727.6 410.86,723.8" fill="#000080"/>
<polygon points="437.72,694.5 441.52,698.3 437.72,702.1 433.92,698.3" fill="#000080"/>
<polygon points="460.77,747.7 464.57,751.5 460.77,755.3 456.97,751.5" fill="#000080"/>
<polygon points="483.83,855.8 487.63,859.6 483.83,863.4 480.03,859.6" fill="#000080"/>
<polygon points="506.88,789.8 510.68,793.6 506.88,797.4 503.08,793.6" fill="#000080"/>
<polygon points="529.94,756.5 533.74,760.3 529.94,764.1 526.14,760.3" fill="#000080"/>
<polygon points="553,723.6 556.79,727.4 553,731.2 549.2,727.4" fill="#000080"/>
<polygon points="576.05,654.3 579.85,658.1 576.05,661.9 572.25,658.1" fill="#000080"/>
<polygon points="599.11,588.7 602.91,592.5 599.11,596.3 595.31,592.5" fill="#000080"/>
<polygon points="622.16,688.3 625.96,692.1 622.16,695.9 618.36,692.1" fill="#000080"/>
<polygon points="645.22,657 649.02,660.8 645.22,664.6 641.42,660.8" fill="#000080"/>
<polygon points="668.27,674.1 672.07,677.9 668.27,681.7 664.47,677.9" fill="#000080"/>
<polygon points="691.33,715.5 695.13,719.3 691.33,723.1 687.53,719.3" fill="#000080"/>
<polygon points="714.38,722.2 718.18,726 714.38,729.8 710.58,726" fill="#000080"/>
<polygon points="737.44,687.2 741.24,691 737.44,694.8 733.64,691" fill="#000080"/>
<polygon points="760.49,741.5 764.29,745.3 760.49,749.1 756.69,745.3" fill="#000080"/>
<polygon points="783.55,740.6 787.35,744.4 783.55,748.2 779.75,744.4" fill="#000080"/>
<polygon points="806.6,756.7 810.4,760.5 806.6,764.3 802.8,760.5" fill="#000080"/>
<polygon points="829.66,723.9 833.46,727.7 829.66,731.5 825.86,727.7" fill="#000080"/>
<polygon points="852.71,704.5 856.51,708.3 852.71,712.1 848.91,708.3" fill="#000080"/>
<polygon points="875.77,729.2 879.57,733 875.77,736.8 871.97,733" fill="#000080"/>
<polygon points="898.83,734.9 902.62,738.7 898.83,742.5 895.03,738.7" fill="#000080"/>
<polygon points="921.88,629.4 925.68,633.2 921.88,637 918.08,633.2" fill="#000080"/>
<polygon points="944.94,506.6 948.74,510.4 944.94,514.2 941.14,510.4" fill="#000080"/>
<polygon points="967.99,491.9 971.79,495.7 967.99,499.5 964.19,495.7" fill="#000080"/>
<polygon points="991.05,625.4 994.85,629.2 991.05,633 987.25,629.2" fill="#000080"/>
<polygon points="1014.1,500.6 1017.9,504.4 1014.1,508.2 1010.3,504.4" fill="#000080"/>
<polygon points="1037.16,612.9 1040.96,616.7 1037.16,620.5 1033.36,616.7" fill="#000080"/>
<polygon points="1060.21,626 1064.01,629.8 1060.21,633.6 1056.41,629.8" fill="#000080"/>
<polygon points="1083.27,656 1087.07,659.8 1083.27,663.6 1079.47,659.8" fill="#000080"/>
<polygon points="1106.32,710.3 1110.12,714.1 1106.32,717.9 1102.52,714.1" fill="#000080"/>
<polygon points="1129.38,711.8 1133.18,715.6 1129.38,719.4 1125.58,715.6" fill="#000080"/>
<polygon points="1152.43,792.6 1156.23,796.4 1152.43,800.2 1148.63,796.4" fill="#000080"/>
<polygon points="1175.49,745.3 1179.29,749.1 1175.49,752.9 1171.69,749.1" fill="#000080"/>
<polygon points="1198.54,794.4 1202.34,798.2 1198.54,802 1194.74,798.2" fill="#000080"/>
<polygon points="1221.6,771.3 1225.4,775.1 1221.6,778.9 1217.8,775.1" fill="#000080"/>
<polygon points="1244.65,843.7 1248.45,847.5 1244.65,851.3 1240.86,847.5" fill="#000080"/>
<polygon points="1267.71,821.6 1271.51,825.4 1267.71,829.2 1263.91,825.4" fill="#000080"/>
<polygon points="1290.77,786.1 1294.57,789.9 1290.77,793.7 1286.97,789.9" fill="#000080"/>
<polygon points="1313.82,716.7 1317.62,720.5 1313.82,724.3 1310.02,720.5" fill="#000080"/>
<polygon points="1336.88,646.3 1340.68,650.1 1336.88,653.9 1333.08,650.1" fill="#000080"/>
<polygon points="1359.93,707.3 1363.73,711.1 1359.93,714.9 1356.13,711.1" fill="#000080"/>
<polygon points="1382.99,712.6 1386.79,716.4 1382.99,720.2 1379.19,716.4" fill="#000080"/>
<polygon points="1406.04,691.2 1409.84,695 1406.04,698.8 1402.24,695" fill="#000080"/>
<polygon points="1429.1,760.3 1432.9,764.1 1429.1,767.9 1425.3,764.1" fill="#000080"/>
<polygon points="1452.15,763.4 1455.95,767.2 1452.15,771 1448.35,767.2" fill="#000080"/>
<polygon points="1475.21,722.7 1479.01,726.5 1475.21,730.3 1471.41,726.5" fill="#000080"/>
<polygon points="1498.26,670.2 1502.06,674 1498.26,677.8 1494.46,674" fill="#000080"/>
<polygon points="1521.32,626.8 1525.12,630.6 1521.32,634.4 1517.52,630.6" fill="#000080"/>
<polygon points="1544.37,648.7 1548.17,652.5 1544.37,656.3 1540.57,652.5" fill="#000080"/>
<polygon points="1567.43,606.7 1571.23,610.5 1567.43,614.3 1563.63,610.5" fill="#000080"/>
<polygon points="1590.48,618.4 1594.28,622.2 1590.48,626 1586.68,622.2" fill="#000080"/>
<polygon points="1613.54,650.6 1617.34,654.4 1613.54,658.2 1609.74,654.4" fill="#000080"/>
<polygon points="1636.6,769.5 1640.4,773.3 1636.6,777.1 1632.8,773.3" fill="#000080"/>
<polygon points="1659.65,743.7 1663.45,747.5 1659.65,751.3 1655.85,747.5" fill="#000080"/>
<polygon points="1682.71,733.7 1686.51,737.5 1682.71,741.3 1678.91,737.5" fill="#000080"/>
<polygon points="1705.76,784.3 1709.56,788.1 1705.76,791.9 1701.96,788.1" fill="#000080"/>
<polygon points="1728.82,764.7 1732.62,768.5 1728.82,772.3 1725.02,768.5" fill="#000080"/>
<polygon points="1751.87,773.5 1755.67,777.3 1751.87,781.1 1748.07,777.3" fill="#000080"/>
<polyline points="45.78,750.7 68.83,751 91.89,754.6 114.94,742.8 138,731 161.05,768 184.11,806 207.16,812.9 230.22,728.3 253.28,660 276.33,613.8 299.39,616.8 322.44,643 345.5,700.3 368.55,734.1 391.61,726 414.66,703.4 437.72,691.8 460.77,723.2 483.83,769.6 506.88,800.9 529.94,804.2 553,759.7 576.05,714.5 599.11,659.1 622.16,648.2 645.22,648.2 668.27,677.9 691.33,685.5 714.38,708 737.44,712.1 760.49,720 783.55,727 806.6,749.8 829.66,743.8 852.71,731.4 875.77,722.8 898.83,727.1 921.88,700.8 944.94,626.4 967.99,547 991.05,544.9 1014.1,542.8 1037.16,582.7 1060.21,582.7 1083.27,635 1106.32,666.9 1129.38,695.5 1152.43,741.7 1175.49,753.6 1198.54,781 1221.6,775.1 1244.65,807.6 1267.71,816.5 1290.77,821 1313.82,778.1 1336.88,719.9 1359.93,693.9 1382.99,691.9 1406.04,706.9 1429.1,724.8 1452.15,741.5 1475.21,751.7 1498.26,721.9 1521.32,676.6 1544.37,652.5 1567.43,631 1590.48,628.4 1613.54,628.9 1636.6,682.6 1659.65,724.8 1682.71,751.8 1705.76,757.1 1728.82,763.7 1751.87,777.8" fill="none" stroke="#000080" stroke-width="1.05"/>
<rect x="43.53" y="748.45" width="4.5" height="4.5" fill="#0000ff"/>
<rect x="66.58" y="748.75" width="4.5" height="4.5" fill="#0000ff"/>
<rect x="89.64" y="752.35" width="4.5" height="4.5" fill="#0000ff"/>
<rect x="112.69" y="740.55" width="4.5" height="4.5" fill="#0000ff"/>
<rect x="135.75" y="728.75" width="4.5" height="4.5" fill="#0000ff"/>
<rect x="158.8" y="765.75" width="4.5" height="4.5" fill="#0000ff"/>
<rect x="181.86" y="803.75" width="4.5" height="4.5" fill="#0000ff"/>
<rect x="204.91" y="810.65" width="4.5" height="4.5" fill="#0000ff"/>
<rect x="227.97" y="726.05" width="4.5" height="4.5" fill="#0000ff"/>
<rect x="251.03" y="657.75" width="4.5" height="4.5" fill="#0000ff"/>
<rect x="274.08" y="611.55" width="4.5" height="4.5" fill="#0000ff"/>
<rect x="297.14" y="614.55" width="4.5" height="4.5" fill="#0000ff"/>
<rect x="320.19" y="640.75" width="4.5" height="4.5" fill="#0000ff"/>
<rect x="343.25" y="698.05" width="4.5" height="4.5" fill="#0000ff"/>
<rect x="366.3" y="731.85" width="4.5" height="4.5" fill="#0000ff"/>
<rect x="389.36" y="723.75" width="4.5" height="4.5" fill="#0000ff"/>
<rect x="412.41" y="701.15" width="4.5" height="4.5" fill="#0000ff"/>
<rect x="435.47" y="689.55" width="4.5" height="4.5" fill="#0000ff"/>
<rect x="458.52" y="720.95" width="4.5" height="4.5" fill="#0000ff"/>
<rect x="481.58" y="767.35" width="4.5" height="4.5" fill="#0000ff"/>
<rect x="504.63" y="798.65" width="4.5" height="4.5" fill="#0000ff"/>
<rect x="527.69" y="801.95" width="4.5" height="4.5" fill="#0000ff"/>
<rect x="550.75" y="757.45" width="4.5" height="4.5" fill="#0000ff"/>
<rect x="573.8" y="712.25" width="4.5" height="4.5" fill="#0000ff"/>
<rect x="596.86" y="656.85" width="4.5" height="4.5" fill="#0000ff"/>
<rect x="619.91" y="645.95" width="4.5" height="4.5" fill="#0000ff"/>
<rect x="642.97" y="645.95" width="4.5" height="4.5" fill="#0000ff"/>
<rect x="666.02" y="675.65" width="4.5" height="4.5" fill="#0000ff"/>
<rect x="689.08" y="683.25" width="4.5" height="4.5" fill="#0000ff"/>
<rect x="712.13" y="705.75" width="4.5" height="4.5" fill="#0000ff"/>
<rect x="735.19" y="709.85" width="4.5" height="4.5" fill="#0000ff"/>
<rect x="758.24" y="717.75" width="4.5" height="4.5" fill="#0000ff"/>
<rect x="781.3" y="724.75" width="4.5" height="4.5" fill="#0000ff"/>
<rect x="804.35" y="747.55" width="4.5" height="4.5" fill="#0000ff"/>
<rect x="827.41" y="741.55" width="4.5" height="4.5" fill="#0000ff"/>
<rect x="850.46" y="729.15" width="4.5" height="4.5" fill="#0000ff"/>
<rect x="873.52" y="720.55" width="4.5" height="4.5" fill="#0000ff"/>
<rect x="896.58" y="724.85" width="4.5" height="4.5" fill="#0000ff"/>
<rect x="919.63" y="698.55" width="4.5" height="4.5" fill="#0000ff"/>
<rect x="942.69" y="624.15" width="4.5" height="4.5" fill="#0000ff"/>
<rect x="965.74" y="544.75" width="4.5" height="4.5" fill="#0000ff"/>
<rect x="988.8" y="542.65" width="4.5" height="4.5" fill="#0000ff"/>
<rect x="1011.85" y="540.55" width="4.5" height="4.5" fill="#0000ff"/>
<rect x="1034.91" y="580.45" width="4.5" height="4.5" fill="#0000ff"/>
<rect x="1057.96" y="580.45" width="4.5" height="4.5" fill="#0000ff"/>
<rect x="1081.02" y="632.75" width="4.5" height="4.5" fill="#0000ff"/>
<rect x="1104.07" y="664.65" width="4.5" height="4.5" fill="#0000ff"/>
<rect x="1127.13" y="693.25" width="4.5" height="4.5" fill="#0000ff"/>
<rect x="1150.18" y="739.45" width="4.5" height="4.5" fill="#0000ff"/>
<rect x="1173.24" y="751.35" width="4.5" height="4.5" fill="#0000ff"/>
<rect x="1196.29" y="778.75" width="4.5" height="4.5" fill="#0000ff"/>
<rect x="1219.35" y="772.85" width="4.5" height="4.5" fill="#0000ff"/>
<rect x="1242.4" y="805.35" width="4.5" height="4.5" fill="#0000ff"/>
<rect x="1265.46" y="814.25" width="4.5" height="4.5" fill="#0000ff"/>
<rect x="1288.52" y="818.75" width="4.5" height="4.5" fill="#0000ff"/>
<rect x="1311.57" y="775.85" width="4.5" height="4.5" fill="#0000ff"/>
<rect x="1334.63" y="717.65" width="4.5" height="4.5" fill="#0000ff"/>
<rect x="1357.68" y="691.65" width="4.5" height="4.5" fill="#0000ff"/>
<rect x="1380.74" y="689.65" width="4.5" height="4.5" fill="#0000ff"/>
<rect x="1403.79" y="704.65" width="4.5" height="4.5" fill="#0000ff"/>
<rect x="1426.85" y="722.55" width="4.5" height="4.5" fill="#0000ff"/>
<rect x="1449.9" y="739.25" width="4.5" height="4.5" fill="#0000ff"/>
<rect x="1472.96" y="749.45" width="4.5" height="4.5" fill="#0000ff"/>
<rect x="1496.01" y="719.65" width="4.5" height="4.5" fill="#0000ff"/>
<rect x="1519.07" y="674.35" width="4.5" height="4.5" fill="#0000ff"/>
<rect x="1542.12" y="650.25" width="4.5" height="4.5" fill="#0000ff"/>
<rect x="1565.18" y="628.75" width="4.5" height="4.5" fill="#0000ff"/>
<rect x="1588.23" y="626.15" width="4.5" height="4.5" fill="#0000ff"/>
<rect x="1611.29" y="626.65" width="4.5" height="4.5" fill="#0000ff"/>
<rect x="1634.35" y="680.35" width="4.5" height="4.5" fill="#0000ff"/>
<rect x="1657.4" y="722.55" width="4.5" height="4.5" fill="#0000ff"/>
<rect x="1680.46" y="749.55" width="4.5" height="4.5" fill="#0000ff"/>
<rect x="1703.51" y="754.85" width="4.5" height="4.5" fill="#0000ff"/>
<rect x="1726.57" y="761.45" width="4.5" height="4.5" fill="#0000ff"/>
<rect x="1749.62" y="775.55" width="4.5" height="4.5" fill="#0000ff"/>
<polyline points="45.78,747 68.83,754.8 91.89,754.6 114.94,740.8 138,739.5 161.05,767.6 184.11,778.8 207.16,794 230.22,765.1 253.28,697 276.33,648.9 299.39,616.8 322.44,633.2 345.5,678.9 368.55,708.8 391.61,714.7 414.66,724.8 437.72,703 460.77,706.8 483.83,758 506.88,774.5 529.94,790.3 553,785.1 576.05,734 599.11,683.8 622.16,666.7 645.22,650.9 668.27,655.8 691.33,687.5 714.38,696.1 737.44,702.9 760.49,720 783.55,725.5 806.6,735 829.66,743.8 852.71,734.7 875.77,732.5 898.83,726.6 921.88,702.9 944.94,653.8 967.99,593.7 991.05,567.1 1014.1,534.9 1037.16,560.5 1060.21,593.7 1083.27,601.8 1106.32,654.6 1129.38,678.6 1152.43,721.1 1175.49,744.1 1198.54,764.8 1221.6,779.6 1244.65,792.9 1267.71,812.1 1290.77,810 1313.82,796.4 1336.88,745.6 1359.93,717.6 1382.99,699 1406.04,693.1 1429.1,720.7 1452.15,734.8 1475.21,737.9 1498.26,732.7 1521.32,699 1544.37,669.9 1567.43,640.8 1590.48,628.8 1613.54,633.7 1636.6,664.7 1659.65,699.1 1682.71,729.1 1705.76,761.1 1728.82,760.2 1751.87,767.8" fill="none" stroke="#f00" stroke-width="1.1"/>
<rect x="43.28" y="744.5" width="5" height="5" fill="#f00"/>
<rect x="66.33" y="752.3" width="5" height="5" fill="#f00"/>
<rect x="89.39" y="752.1" width="5" height="5" fill="#f00"/>
<rect x="112.44" y="738.3" width="5" height="5" fill="#f00"/>
<rect x="135.5" y="737" width="5" height="5" fill="#f00"/>
<rect x="158.55" y="765.1" width="5" height="5" fill="#f00"/>
<rect x="181.61" y="776.3" width="5" height="5" fill="#f00"/>
<rect x="204.66" y="791.5" width="5" height="5" fill="#f00"/>
<rect x="227.72" y="762.6" width="5" height="5" fill="#f00"/>
<rect x="250.78" y="694.5" width="5" height="5" fill="#f00"/>
<rect x="273.83" y="646.4" width="5" height="5" fill="#f00"/>
<rect x="296.89" y="614.3" width="5" height="5" fill="#f00"/>
<rect x="319.94" y="630.7" width="5" height="5" fill="#f00"/>
<rect x="343" y="676.4" width="5" height="5" fill="#f00"/>
<rect x="366.05" y="706.3" width="5" height="5" fill="#f00"/>
<rect x="389.11" y="712.2" width="5" height="5" fill="#f00"/>
<rect x="412.16" y="722.3" width="5" height="5" fill="#f00"/>
<rect x="435.22" y="700.5" width="5" height="5" fill="#f00"/>
<rect x="458.27" y="704.3" width="5" height="5" fill="#f00"/>
<rect x="481.33" y="755.5" width="5" height="5" fill="#f00"/>
<rect x="504.38" y="772" width="5" height="5" fill="#f00"/>
<rect x="527.44" y="787.8" width="5" height="5" fill="#f00"/>
<rect x="550.5" y="782.6" width="5" height="5" fill="#f00"/>
<rect x="573.55" y="731.5" width="5" height="5" fill="#f00"/>
<rect x="596.61" y="681.3" width="5" height="5" fill="#f00"/>
<rect x="619.66" y="664.2" width="5" height="5" fill="#f00"/>
<rect x="642.72" y="648.4" width="5" height="5" fill="#f00"/>
<rect x="665.77" y="653.3" width="5" height="5" fill="#f00"/>
<rect x="688.83" y="685" width="5" height="5" fill="#f00"/>
<rect x="711.88" y="693.6" width="5" height="5" fill="#f00"/>
<rect x="734.94" y="700.4" width="5" height="5" fill="#f00"/>
<rect x="757.99" y="717.5" width="5" height="5" fill="#f00"/>
<rect x="781.05" y="723" width="5" height="5" fill="#f00"/>
<rect x="804.1" y="732.5" width="5" height="5" fill="#f00"/>
<rect x="827.16" y="741.3" width="5" height="5" fill="#f00"/>
<rect x="850.21" y="732.2" width="5" height="5" fill="#f00"/>
<rect x="873.27" y="730" width="5" height="5" fill="#f00"/>
<rect x="896.33" y="724.1" width="5" height="5" fill="#f00"/>
<rect x="919.38" y="700.4" width="5" height="5" fill="#f00"/>
<rect x="942.44" y="651.3" width="5" height="5" fill="#f00"/>
<rect x="965.49" y="591.2" width="5" height="5" fill="#f00"/>
<rect x="988.55" y="564.6" width="5" height="5" fill="#f00"/>
<rect x="1011.6" y="532.4" width="5" height="5" fill="#f00"/>
<rect x="1034.66" y="558" width="5" height="5" fill="#f00"/>
<rect x="1057.71" y="591.2" width="5" height="5" fill="#f00"/>
<rect x="1080.77" y="599.3" width="5" height="5" fill="#f00"/>
<rect x="1103.82" y="652.1" width="5" height="5" fill="#f00"/>
<rect x="1126.88" y="676.1" width="5" height="5" fill="#f00"/>
<rect x="1149.93" y="718.6" width="5" height="5" fill="#f00"/>
<rect x="1172.99" y="741.6" width="5" height="5" fill="#f00"/>
<rect x="1196.04" y="762.3" width="5" height="5" fill="#f00"/>
<rect x="1219.1" y="777.1" width="5" height="5" fill="#f00"/>
<rect x="1242.15" y="790.4" width="5" height="5" fill="#f00"/>
<rect x="1265.21" y="809.6" width="5" height="5" fill="#f00"/>
<rect x="1288.27" y="807.5" width="5" height="5" fill="#f00"/>
<rect x="1311.32" y="793.9" width="5" height="5" fill="#f00"/>
<rect x="1334.38" y="743.1" width="5" height="5" fill="#f00"/>
<rect x="1357.43" y="715.1" width="5" height="5" fill="#f00"/>
<rect x="1380.49" y="696.5" width="5" height="5" fill="#f00"/>
<rect x="1403.54" y="690.6" width="5" height="5" fill="#f00"/>
<rect x="1426.6" y="718.2" width="5" height="5" fill="#f00"/>
<rect x="1449.65" y="732.3" width="5" height="5" fill="#f00"/>
<rect x="1472.71" y="735.4" width="5" height="5" fill="#f00"/>
<rect x="1495.76" y="730.2" width="5" height="5" fill="#f00"/>
<rect x="1518.82" y="696.5" width="5" height="5" fill="#f00"/>
<rect x="1541.87" y="667.4" width="5" height="5" fill="#f00"/>
<rect x="1564.93" y="638.3" width="5" height="5" fill="#f00"/>
<rect x="1587.98" y="626.3" width="5" height="5" fill="#f00"/>
<rect x="1611.04" y="631.2" width="5" height="5" fill="#f00"/>
<rect x="1634.1" y="662.2" width="5" height="5" fill="#f00"/>
<rect x="1657.15" y="696.6" width="5" height="5" fill="#f00"/>
<rect x="1680.21" y="726.6" width="5" height="5" fill="#f00"/>
<rect x="1703.26" y="758.6" width="5" height="5" fill="#f00"/>
<rect x="1726.32" y="757.7" width="5" height="5" fill="#f00"/>
<rect x="1749.37" y="765.3" width="5" height="5" fill="#f00"/>
<polyline points="45.78,753 68.83,745.8 91.89,752.1 114.94,747 138,742 161.05,761.8 184.11,773.8 207.16,773 230.22,748.9 253.28,732.4 276.33,712.5 299.39,672 322.44,652 345.5,656.8 368.55,675.7 391.61,683.9 414.66,703 437.72,714 460.77,724.8 483.83,736.8 506.88,747.1 529.94,764 553,764.6 576.05,758 599.11,730 622.16,703.6 645.22,682.2 668.27,668 691.33,667 714.38,677.9 737.44,693.7 760.49,702.9 783.55,716.7 806.6,731.4 829.66,731.4 852.71,729.8 875.77,736.1 898.83,735.8 921.88,716.5 944.94,674.7 967.99,636.8 991.05,623.2 1014.1,584.6 1037.16,565 1060.21,563.9 1083.27,588.7 1106.32,624.5 1129.38,639.8 1152.43,688 1175.49,709.5 1198.54,738.8 1221.6,758 1244.65,781 1267.71,798.8 1290.77,797.9 1313.82,792.9 1336.88,767.8 1359.93,757 1382.99,734.8 1406.04,714 1429.1,708.6 1452.15,716.4 1475.21,729.1 1498.26,722.4 1521.32,708.6 1544.37,701.6 1567.43,675.9 1590.48,652.1 1613.54,640.1 1636.6,656.8 1659.65,675.9 1682.71,691 1705.76,720.1 1728.82,743.9 1751.87,764.9" fill="none" stroke="#00ff00" stroke-width="2.6" stroke-linejoin="round"/>
<rect x="43.78" y="751" width="4" height="4" fill="#2e8b2e" stroke="#006000" stroke-width="1"/>
<rect x="66.83" y="743.8" width="4" height="4" fill="#2e8b2e" stroke="#006000" stroke-width="1"/>
<rect x="89.89" y="750.1" width="4" height="4" fill="#2e8b2e" stroke="#006000" stroke-width="1"/>
<rect x="112.94" y="745" width="4" height="4" fill="#2e8b2e" stroke="#006000" stroke-width="1"/>
<rect x="136" y="740" width="4" height="4" fill="#2e8b2e" stroke="#006000" stroke-width="1"/>
<rect x="159.05" y="759.8" width="4" height="4" fill="#2e8b2e" stroke="#006000" stroke-width="1"/>
<rect x="182.11" y="771.8" width="4" height="4" fill="#2e8b2e" stroke="#006000" stroke-width="1"/>
<rect x="205.16" y="771" width="4" height="4" fill="#2e8b2e" stroke="#006000" stroke-width="1"/>
<rect x="228.22" y="746.9" width="4" height="4" fill="#2e8b2e" stroke="#006000" stroke-width="1"/>
<rect x="251.28" y="730.4" width="4" height="4" fill="#2e8b2e" stroke="#006000" stroke-width="1"/>
<rect x="274.33" y="710.5" width="4" height="4" fill="#2e8b2e" stroke="#006000" stroke-width="1"/>
<rect x="297.39" y="670" width="4" height="4" fill="#2e8b2e" stroke="#006000" stroke-width="1"/>
<rect x="320.44" y="650" width="4" height="4" fill="#2e8b2e" stroke="#006000" stroke-width="1"/>
<rect x="343.5" y="654.8" width="4" height="4" fill="#2e8b2e" stroke="#006000" stroke-width="1"/>
<rect x="366.55" y="673.7" width="4" height="4" fill="#2e8b2e" stroke="#006000" stroke-width="1"/>
<rect x="389.61" y="681.9" width="4" height="4" fill="#2e8b2e" stroke="#006000" stroke-width="1"/>
<rect x="412.66" y="701" width="4" height="4" fill="#2e8b2e" stroke="#006000" stroke-width="1"/>
<rect x="435.72" y="712" width="4" height="4" fill="#2e8b2e" stroke="#006000" stroke-width="1"/>
<rect x="458.77" y="722.8" width="4" height="4" fill="#2e8b2e" stroke="#006000" stroke-width="1"/>
<rect x="481.83" y="734.8" width="4" height="4" fill="#2e8b2e" stroke="#006000" stroke-width="1"/>
<rect x="504.88" y="745.1" width="4" height="4" fill="#2e8b2e" stroke="#006000" stroke-width="1"/>
<rect x="527.94" y="762" width="4" height="4" fill="#2e8b2e" stroke="#006000" stroke-width="1"/>
<rect x="551" y="762.6" width="4" height="4" fill="#2e8b2e" stroke="#006000" stroke-width="1"/>
<rect x="574.05" y="756" width="4" height="4" fill="#2e8b2e" stroke="#006000" stroke-width="1"/>
<rect x="597.11" y="728" width="4" height="4" fill="#2e8b2e" stroke="#006000" stroke-width="1"/>
<rect x="620.16" y="701.6" width="4" height="4" fill="#2e8b2e" stroke="#006000" stroke-width="1"/>
<rect x="643.22" y="680.2" width="4" height="4" fill="#2e8b2e" stroke="#006000" stroke-width="1"/>
<rect x="666.27" y="666" width="4" height="4" fill="#2e8b2e" stroke="#006000" stroke-width="1"/>
<rect x="689.33" y="665" width="4" height="4" fill="#2e8b2e" stroke="#006000" stroke-width="1"/>
<rect x="712.38" y="675.9" width="4" height="4" fill="#2e8b2e" stroke="#006000" stroke-width="1"/>
<rect x="735.44" y="691.7" width="4" height="4" fill="#2e8b2e" stroke="#006000" stroke-width="1"/>
<rect x="758.49" y="700.9" width="4" height="4" fill="#2e8b2e" stroke="#006000" stroke-width="1"/>
<rect x="781.55" y="714.7" width="4" height="4" fill="#2e8b2e" stroke="#006000" stroke-width="1"/>
<rect x="804.6" y="729.4" width="4" height="4" fill="#2e8b2e" stroke="#006000" stroke-width="1"/>
<rect x="827.66" y="729.4" width="4" height="4" fill="#2e8b2e" stroke="#006000" stroke-width="1"/>
<rect x="850.71" y="727.8" width="4" height="4" fill="#2e8b2e" stroke="#006000" stroke-width="1"/>
<rect x="873.77" y="734.1" width="4" height="4" fill="#2e8b2e" stroke="#006000" stroke-width="1"/>
<rect x="896.83" y="733.8" width="4" height="4" fill="#2e8b2e" stroke="#006000" stroke-width="1"/>
<rect x="919.88" y="714.5" width="4" height="4" fill="#2e8b2e" stroke="#006000" stroke-width="1"/>
<rect x="942.94" y="672.7" width="4" height="4" fill="#2e8b2e" stroke="#006000" stroke-width="1"/>
<rect x="965.99" y="634.8" width="4" height="4" fill="#2e8b2e" stroke="#006000" stroke-width="1"/>
<rect x="989.05" y="621.2" width="4" height="4" fill="#2e8b2e" stroke="#006000" stroke-width="1"/>
<rect x="1012.1" y="582.6" width="4" height="4" fill="#2e8b2e" stroke="#006000" stroke-width="1"/>
<rect x="1035.16" y="563" width="4" height="4" fill="#2e8b2e" stroke="#006000" stroke-width="1"/>
<rect x="1058.21" y="561.9" width="4" height="4" fill="#2e8b2e" stroke="#006000" stroke-width="1"/>
<rect x="1081.27" y="586.7" width="4" height="4" fill="#2e8b2e" stroke="#006000" stroke-width="1"/>
<rect x="1104.32" y="622.5" width="4" height="4" fill="#2e8b2e" stroke="#006000" stroke-width="1"/>
<rect x="1127.38" y="637.8" width="4" height="4" fill="#2e8b2e" stroke="#006000" stroke-width="1"/>
<rect x="1150.43" y="686" width="4" height="4" fill="#2e8b2e" stroke="#006000" stroke-width="1"/>
<rect x="1173.49" y="707.5" width="4" height="4" fill="#2e8b2e" stroke="#006000" stroke-width="1"/>
<rect x="1196.54" y="736.8" width="4" height="4" fill="#2e8b2e" stroke="#006000" stroke-width="1"/>
<rect x="1219.6" y="756" width="4" height="4" fill="#2e8b2e" stroke="#006000" stroke-width="1"/>
<rect x="1242.65" y="779" width="4" height="4" fill="#2e8b2e" stroke="#006000" stroke-width="1"/>
<rect x="1265.71" y="796.8" width="4" height="4" fill="#2e8b2e" stroke="#006000" stroke-width="1"/>
<rect x="1288.77" y="795.9" width="4" height="4" fill="#2e8b2e" stroke="#006000" stroke-width="1"/>
<rect x="1311.82" y="790.9" width="4" height="4" fill="#2e8b2e" stroke="#006000" stroke-width="1"/>
<rect x="1334.88" y="765.8" width="4" height="4" fill="#2e8b2e" stroke="#006000" stroke-width="1"/>
<rect x="1357.93" y="755" width="4" height="4" fill="#2e8b2e" stroke="#006000" stroke-width="1"/>
<rect x="1380.99" y="732.8" width="4" height="4" fill="#2e8b2e" stroke="#006000" stroke-width="1"/>
<rect x="1404.04" y="712" width="4" height="4" fill="#2e8b2e" stroke="#006000" stroke-width="1"/>
<rect x="1427.1" y="706.6" width="4" height="4" fill="#2e8b2e" stroke="#006000" stroke-width="1"/>
<rect x="1450.15" y="714.4" width="4" height="4" fill="#2e8b2e" stroke="#006000" stroke-width="1"/>
<rect x="1473.21" y="727.1" width="4" height="4" fill="#2e8b2e" stroke="#006000" stroke-width="1"/>
<rect x="1496.26" y="720.4" width="4" height="4" fill="#2e8b2e" stroke="#006000" stroke-width="1"/>
<rect x="1519.32" y="706.6" width="4" height="4" fill="#2e8b2e" stroke="#006000" stroke-width="1"/>
<rect x="1542.37" y="699.6" width="4" height="4" fill="#2e8b2e" stroke="#006000" stroke-width="1"/>
<rect x="1565.43" y="673.9" width="4" height="4" fill="#2e8b2e" stroke="#006000" stroke-width="1"/>
<rect x="1588.48" y="650.1" width="4" height="4" fill="#2e8b2e" stroke="#006000" stroke-width="1"/>
<rect x="1611.54" y="638.1" width="4" height="4" fill="#2e8b2e" stroke="#006000" stroke-width="1"/>
<rect x="1634.6" y="654.8" width="4" height="4" fill="#2e8b2e" stroke="#006000" stroke-width="1"/>
<rect x="1657.65" y="673.9" width="4" height="4" fill="#2e8b2e" stroke="#006000" stroke-width="1"/>
<rect x="1680.71" y="689" width="4" height="4" fill="#2e8b2e" stroke="#006000" stroke-width="1"/>
<rect x="1703.76" y="718.1" width="4" height="4" fill="#2e8b2e" stroke="#006000" stroke-width="1"/>
<rect x="1726.82" y="741.9" width="4" height="4" fill="#2e8b2e" stroke="#006000" stroke-width="1"/>
<rect x="1749.87" y="762.9" width="4" height="4" fill="#2e8b2e" stroke="#006000" stroke-width="1"/>
<text class="s" x="1280.2" y="524.9">Signallinie</text>
<text class="s" x="1281" y="572.8">Trendlinien</text>
<line x1="1369" y1="520" x2="1501.61" y2="636.39" stroke="#111" stroke-width="1.15"/>
<polygon points="1508,642 1499.1,639.25 1504.12,633.54" fill="#000"/>
<line x1="1276" y1="571" x2="1141.96" y2="698.54" stroke="#111" stroke-width="1.15"/>
<polygon points="1135.8,704.4 1139.34,695.79 1144.58,701.29" fill="#000"/>
<line x1="1288" y1="581" x2="1161.43" y2="715.41" stroke="#111" stroke-width="1.15"/>
<polygon points="1155.6,721.6 1158.66,712.81 1164.19,718.02" fill="#000"/>
<line x1="1305" y1="581" x2="1198.68" y2="714.94" stroke="#111" stroke-width="1.15"/>
<polygon points="1193.4,721.6 1195.71,712.58 1201.66,717.3" fill="#000"/>
<line x1="921.5" y1="12.3" x2="921.5" y2="880" stroke="#10108a" stroke-width="1.3" stroke-dasharray="8.4,2.45"/>
<rect x="1152" y="873" width="1.5" height="7" fill="#10108a"/>
</svg>
</body></html>
